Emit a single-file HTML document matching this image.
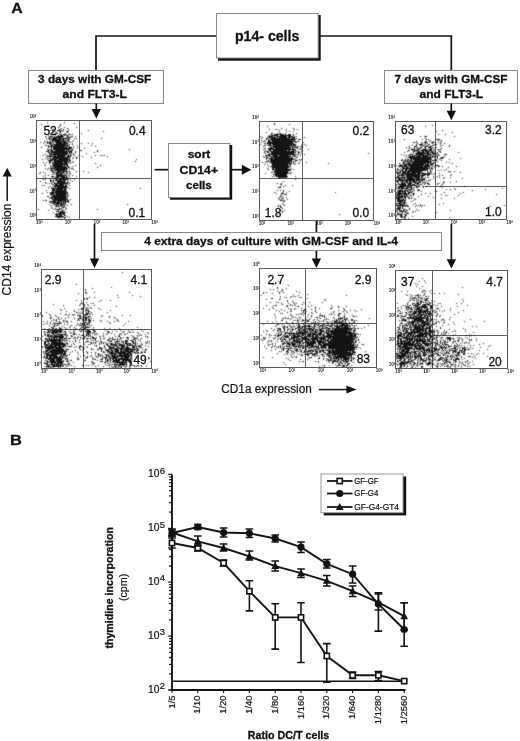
<!DOCTYPE html>
<html><head><meta charset="utf-8"><title>Figure</title>
<style>
html,body{margin:0;padding:0;background:#fff}
svg{display:block}
text{font-family:"Liberation Sans",Arial,Helvetica,sans-serif;fill:#111;stroke:#111;stroke-width:.2px}
.b{font-weight:bold;stroke-width:.3px}
.ln{stroke:#151515;fill:none}
.box{fill:#fff;stroke:#888;stroke-width:1}
.pl{fill:#fff;stroke:#5a5a5a;stroke-width:1}
.q{stroke:#606060;stroke-width:1}
.n{font-size:12px;stroke-width:.3px}
.t{font-size:4.6px;fill:#2a2a2a;stroke:none;font-weight:bold}
.d{stroke:#141414;stroke-width:1;fill:none;shape-rendering:crispEdges}
</style></head><body>
<svg width="520" height="741" viewBox="0 0 520 741">
<defs><filter id="bl" x="-3%" y="-3%" width="106%" height="106%" color-interpolation-filters="sRGB"><feConvolveMatrix order="3" kernelMatrix=".04 .11 .04 .11 .4 .11 .04 .11 .04" divisor="1" edgeMode="none" preserveAlpha="false"/></filter></defs>
<rect width="520" height="741" fill="#fff"/>

<text class="b" x="11.3" y="13" font-size="14.7" textLength="11.4" lengthAdjust="spacingAndGlyphs">A</text>
<text class="b" x="9.9" y="444.7" font-size="14.7" textLength="11.9" lengthAdjust="spacingAndGlyphs">B</text>
<path class="ln" stroke-width="1.7" d="M216 36H96V70.5M320 36H451.3V70.5"/>
<rect x="218" y="15" width="102.7" height="45.7" fill="#111"/>
<rect class="box" x="216.5" y="13.5" width="101.7" height="44.5"/>
<text class="b" x="235" y="41.2" font-size="14.5" textLength="64.3" lengthAdjust="spacingAndGlyphs">p14- cells</text>
<rect class="box" x="28.5" y="70.5" width="135" height="33"/>
<text class="b" x="38.1" y="83.1" font-size="11.7" textLength="113.1" lengthAdjust="spacingAndGlyphs">3 days with GM-CSF</text>
<text class="b" x="62.6" y="97.6" font-size="11.7" textLength="64.2" lengthAdjust="spacingAndGlyphs">and FLT3-L</text>
<rect class="box" x="384.5" y="70.5" width="133" height="33"/>
<text class="b" x="394.5" y="83" font-size="11.7" textLength="113.0" lengthAdjust="spacingAndGlyphs">7 days with GM-CSF</text>
<text class="b" x="419.5" y="97.6" font-size="11.7" textLength="63.7" lengthAdjust="spacingAndGlyphs">and FLT3-L</text>
<path class="ln" stroke-width="1.7" d="M96.3 103.5V110.0"/>
<path fill="#111" d="M91.6 109.0H101.0L96.3 118.4Z"/>
<path class="ln" stroke-width="1.7" d="M451.3 103.5V111.8"/>
<path fill="#111" d="M446.6 110.8H456.0L451.3 120.2Z"/>
<path class="ln" stroke-width="1.7" d="M154.7 169.7H168"/>
<rect x="170" y="145" width="62.2" height="54.7" fill="#111"/>
<rect class="box" x="168.5" y="143.5" width="61" height="54"/>
<text class="b" x="187.7" y="158.3" font-size="11.7" textLength="22.6" lengthAdjust="spacingAndGlyphs">sort</text>
<text class="b" x="179.6" y="173.7" font-size="11.7" textLength="38.5" lengthAdjust="spacingAndGlyphs">CD14+</text>
<text class="b" x="186" y="189" font-size="11.7" textLength="25.8" lengthAdjust="spacingAndGlyphs">cells</text>
<path class="ln" stroke-width="1.7" d="M232 169.7H242.8"/>
<path fill="#111" d="M241.8 164.7V174.7L251.3 169.7Z"/>
<path class="ln" stroke-width="1.7" d="M94.5 224V259.6"/>
<path fill="#111" d="M89.8 258.6H99.2L94.5 268Z"/>
<path class="ln" stroke-width="1.7" d="M316.4 221V232"/>
<path class="ln" stroke-width="1.7" d="M316.4 250.5V259.6"/>
<path fill="#111" d="M311.7 258.6H321.09999999999997L316.4 268Z"/>
<path class="ln" stroke-width="1.7" d="M451.4 224V260.20000000000005"/>
<path fill="#111" d="M446.7 259.20000000000005H456.09999999999997L451.4 268.6Z"/>
<rect class="box" x="101.5" y="232.5" width="340" height="18"/>
<text class="b" x="144.2" y="244.8" font-size="11.7" textLength="253.8" lengthAdjust="spacingAndGlyphs">4 extra days of culture with GM-CSF and IL-4</text>
<rect class="pl" x="36.5" y="120.5" width="115" height="99"/>
<path class="q" d="M79.5 120.5V219.5M36.5 178.5H151.5"/>
<text class="t" x="39.3" y="224.4" text-anchor="middle">10<tspan dy="-1.2" font-size="2.6">0</tspan></text>
<text class="t" x="36.0" y="217.4" text-anchor="end">10<tspan dy="-1.2" font-size="2.6">0</tspan></text>
<text class="t" x="68.1" y="224.4" text-anchor="middle">10<tspan dy="-1.2" font-size="2.6">1</tspan></text>
<text class="t" x="36.0" y="192.6" text-anchor="end">10<tspan dy="-1.2" font-size="2.6">1</tspan></text>
<text class="t" x="96.9" y="224.4" text-anchor="middle">10<tspan dy="-1.2" font-size="2.6">2</tspan></text>
<text class="t" x="36.0" y="167.8" text-anchor="end">10<tspan dy="-1.2" font-size="2.6">2</tspan></text>
<text class="t" x="125.7" y="224.4" text-anchor="middle">10<tspan dy="-1.2" font-size="2.6">3</tspan></text>
<text class="t" x="36.0" y="143.1" text-anchor="end">10<tspan dy="-1.2" font-size="2.6">3</tspan></text>
<text class="t" x="154.5" y="224.4" text-anchor="middle">10<tspan dy="-1.2" font-size="2.6">4</tspan></text>
<text class="t" x="36.0" y="118.3" text-anchor="end">10<tspan dy="-1.2" font-size="2.6">4</tspan></text>
<path class="d" filter="url(#bl)" d="M47 122.5h1M64 122.5h1M74 123.5h1M41 124.5h1M60 124.5h1M48 125.5h1M60 125.5h1M59 126.5h1M58 127.5h1M64 127.5h1M76 127.5h1M61 128.5h1M67 128.5h1M52 129.5h2M59 129.5h2M63 129.5h1M68 129.5h1M50 130.5h1M52 130.5h2M57 130.5h3M61 130.5h1M63 130.5h1M88 130.5h1M55 131.5h1M59 131.5h2M62 131.5h1M66 131.5h3M103 131.5h1M52 132.5h1M56 132.5h1M60 132.5h1M67 132.5h1M49 133.5h1M54 133.5h4M60 133.5h1M65 133.5h1M81 133.5h1M53 134.5h1M59 134.5h1M61 134.5h1M63 134.5h3M68 134.5h3M72 134.5h1M48 135.5h1M58 135.5h1M60 135.5h3M64 135.5h1M66 135.5h2M45 136.5h1M49 136.5h4M54 136.5h1M56 136.5h8M67 136.5h2M71 136.5h2M75 136.5h1M46 137.5h1M49 137.5h1M51 137.5h1M53 137.5h10M66 137.5h1M68 137.5h3M48 138.5h3M52 138.5h5M58 138.5h3M62 138.5h7M74 138.5h1M76 138.5h1M101 138.5h1M46 139.5h1M49 139.5h1M51 139.5h13M65 139.5h1M68 139.5h2M50 140.5h1M52 140.5h9M62 140.5h3M66 140.5h3M73 140.5h1M44 141.5h1M47 141.5h1M50 141.5h1M52 141.5h2M55 141.5h11M67 141.5h1M69 141.5h1M72 141.5h1M40 142.5h1M45 142.5h1M47 142.5h4M52 142.5h1M55 142.5h7M63 142.5h4M68 142.5h1M70 142.5h1M43 143.5h1M47 143.5h1M49 143.5h3M53 143.5h1M56 143.5h12M72 143.5h1M81 143.5h1M88 143.5h1M92 143.5h1M50 144.5h2M53 144.5h13M67 144.5h1M69 144.5h1M72 144.5h1M45 145.5h2M48 145.5h1M51 145.5h2M54 145.5h15M77 145.5h1M91 145.5h1M48 146.5h17M66 146.5h2M69 146.5h1M73 146.5h1M95 146.5h1M41 147.5h1M48 147.5h1M51 147.5h1M53 147.5h14M68 147.5h4M77 147.5h1M51 148.5h1M53 148.5h19M73 148.5h1M79 148.5h1M84 148.5h1M47 149.5h2M50 149.5h2M53 149.5h17M72 149.5h1M129 149.5h1M48 150.5h2M51 150.5h2M55 150.5h10M66 150.5h1M68 150.5h1M70 150.5h3M80 150.5h2M97 150.5h1M46 151.5h3M50 151.5h22M75 151.5h1M97 151.5h1M48 152.5h2M51 152.5h17M69 152.5h3M75 152.5h1M94 152.5h1M49 153.5h3M53 153.5h15M69 153.5h1M71 153.5h1M73 153.5h1M86 153.5h1M45 154.5h1M50 154.5h17M68 154.5h1M70 154.5h1M73 154.5h1M43 155.5h1M47 155.5h1M49 155.5h2M52 155.5h1M54 155.5h2M57 155.5h9M67 155.5h2M70 155.5h2M74 155.5h1M79 155.5h1M95 155.5h1M100 155.5h1M102 155.5h1M104 155.5h1M46 156.5h1M48 156.5h17M67 156.5h4M82 156.5h1M107 156.5h1M47 157.5h1M50 157.5h1M53 157.5h17M73 157.5h1M76 157.5h2M91 157.5h1M45 158.5h1M48 158.5h1M50 158.5h1M52 158.5h16M69 158.5h1M72 158.5h1M76 158.5h1M42 159.5h1M47 159.5h1M50 159.5h7M58 159.5h12M136 159.5h1M48 160.5h5M54 160.5h14M69 160.5h2M49 161.5h2M53 161.5h17M72 161.5h1M135 161.5h1M43 162.5h1M46 162.5h1M49 162.5h2M52 162.5h1M54 162.5h9M64 162.5h3M68 162.5h1M70 162.5h1M73 162.5h1M49 163.5h1M52 163.5h16M70 163.5h1M95 163.5h1M44 164.5h1M53 164.5h15M45 165.5h1M50 165.5h1M52 165.5h11M64 165.5h1M66 165.5h2M75 165.5h1M100 165.5h1M51 166.5h1M53 166.5h13M67 166.5h2M72 166.5h1M50 167.5h1M52 167.5h1M54 167.5h13M68 167.5h2M97 167.5h1M45 168.5h1M48 168.5h1M50 168.5h18M71 168.5h2M47 169.5h1M51 169.5h1M53 169.5h1M55 169.5h12M69 169.5h1M73 169.5h1M50 170.5h3M54 170.5h11M66 170.5h1M52 171.5h2M57 171.5h4M62 171.5h6M69 171.5h1M76 171.5h1M83 171.5h1M40 172.5h1M43 172.5h1M52 172.5h1M54 172.5h10M66 172.5h1M69 172.5h1M88 172.5h1M39 173.5h1M45 173.5h1M53 173.5h1M56 173.5h3M60 173.5h2M63 173.5h2M66 173.5h2M70 173.5h1M52 174.5h1M54 174.5h1M56 174.5h7M65 174.5h1M69 174.5h1M45 175.5h1M48 175.5h1M56 175.5h11M68 175.5h1M72 175.5h1M43 176.5h1M51 176.5h3M56 176.5h9M66 176.5h1M69 176.5h1M76 176.5h1M45 177.5h1M52 177.5h1M54 177.5h5M61 177.5h7M42 178.5h1M56 178.5h1M58 178.5h7M66 178.5h2M70 178.5h1M43 179.5h1M45 179.5h1M50 179.5h1M53 179.5h1M55 179.5h3M59 179.5h10M74 179.5h1M50 180.5h2M53 180.5h1M55 180.5h7M63 180.5h3M70 180.5h1M40 181.5h1M50 181.5h2M53 181.5h1M57 181.5h8M67 181.5h1M72 181.5h1M45 182.5h1M52 182.5h1M54 182.5h1M57 182.5h9M67 182.5h2M46 183.5h1M49 183.5h1M51 183.5h1M54 183.5h14M69 183.5h1M52 184.5h2M55 184.5h3M59 184.5h5M65 184.5h1M67 184.5h1M42 185.5h1M44 185.5h1M54 185.5h10M65 185.5h2M69 185.5h1M50 186.5h1M52 186.5h1M54 186.5h13M48 187.5h1M53 187.5h1M55 187.5h1M57 187.5h11M51 188.5h15M69 188.5h1M140 188.5h1M52 189.5h3M56 189.5h7M64 189.5h3M46 190.5h1M52 190.5h14M52 191.5h2M55 191.5h12M47 192.5h1M50 192.5h18M42 193.5h1M50 193.5h4M55 193.5h11M67 193.5h1M50 194.5h5M56 194.5h12M51 195.5h1M53 195.5h13M68 195.5h1M47 196.5h2M52 196.5h16M50 197.5h16M67 197.5h1M49 198.5h1M51 198.5h2M54 198.5h13M52 199.5h16M70 199.5h1M43 200.5h1M45 200.5h2M53 200.5h13M67 200.5h2M49 201.5h7M57 201.5h5M63 201.5h6M50 202.5h1M52 202.5h8M61 202.5h3M65 202.5h1M68 202.5h1M51 203.5h1M53 203.5h2M56 203.5h6M63 203.5h3M54 204.5h5M60 204.5h4M65 204.5h1M71 204.5h1M127 204.5h1M50 205.5h1M52 205.5h1M56 205.5h1M58 205.5h1M60 205.5h3M64 205.5h1M67 205.5h1M55 206.5h5M61 206.5h1M63 206.5h2M51 207.5h1M62 207.5h2M65 207.5h1M52 208.5h1M55 208.5h1M59 208.5h2M62 208.5h1M66 208.5h1M38 209.5h1M54 209.5h1M56 209.5h4M61 209.5h1M65 209.5h1M97 209.5h1M48 210.5h1M58 210.5h1M62 210.5h2M56 211.5h3M60 211.5h3M64 211.5h1M53 212.5h1M59 212.5h6M66 212.5h1M56 213.5h1M58 213.5h7M55 214.5h7M63 214.5h2M56 215.5h2M59 215.5h3M64 215.5h2M55 216.5h9M67 216.5h1M57 217.5h4M62 217.5h1M64 217.5h2M69 217.5h1M64 218.5h1M61 219.5h1"/>
<text class="n" x="43.4" y="135" text-anchor="start">52</text>
<text class="n" x="145.6" y="135" text-anchor="end">0.4</text>
<text class="n" x="145.2" y="217.2" text-anchor="end">0.1</text>
<rect class="pl" x="259.5" y="121.5" width="114" height="99"/>
<path class="q" d="M302.5 121.5V220.5M259.5 178.5H373.5"/>
<text class="t" x="262.0" y="224.9" text-anchor="middle">10<tspan dy="-1.2" font-size="2.6">0</tspan></text>
<text class="t" x="258.7" y="217.9" text-anchor="end">10<tspan dy="-1.2" font-size="2.6">0</tspan></text>
<text class="t" x="290.7" y="224.9" text-anchor="middle">10<tspan dy="-1.2" font-size="2.6">1</tspan></text>
<text class="t" x="258.7" y="193.1" text-anchor="end">10<tspan dy="-1.2" font-size="2.6">1</tspan></text>
<text class="t" x="319.4" y="224.9" text-anchor="middle">10<tspan dy="-1.2" font-size="2.6">2</tspan></text>
<text class="t" x="258.7" y="168.3" text-anchor="end">10<tspan dy="-1.2" font-size="2.6">2</tspan></text>
<text class="t" x="348.0" y="224.9" text-anchor="middle">10<tspan dy="-1.2" font-size="2.6">3</tspan></text>
<text class="t" x="258.7" y="143.6" text-anchor="end">10<tspan dy="-1.2" font-size="2.6">3</tspan></text>
<text class="t" x="376.7" y="224.9" text-anchor="middle">10<tspan dy="-1.2" font-size="2.6">4</tspan></text>
<text class="t" x="258.7" y="118.8" text-anchor="end">10<tspan dy="-1.2" font-size="2.6">4</tspan></text>
<path class="d" filter="url(#bl)" d="M274 123.5h1M274 124.5h1M289 124.5h1M267 126.5h1M281 128.5h1M293 128.5h1M269 129.5h1M275 129.5h1M277 129.5h1M286 129.5h1M294 129.5h1M297 129.5h1M279 130.5h1M286 131.5h1M289 131.5h1M293 131.5h1M266 132.5h1M279 132.5h1M271 133.5h2M277 133.5h1M280 133.5h1M285 133.5h1M296 133.5h1M271 134.5h1M274 134.5h10M285 134.5h1M288 134.5h3M293 134.5h1M269 135.5h1M271 135.5h7M280 135.5h11M293 135.5h1M260 136.5h1M268 136.5h5M274 136.5h1M276 136.5h11M288 136.5h5M294 136.5h1M296 136.5h1M262 137.5h1M267 137.5h1M269 137.5h7M277 137.5h1M279 137.5h8M288 137.5h3M292 137.5h3M304 137.5h1M261 138.5h1M266 138.5h2M269 138.5h1M271 138.5h19M291 138.5h4M296 138.5h1M266 139.5h1M268 139.5h1M270 139.5h26M298 139.5h3M261 140.5h1M264 140.5h1M268 140.5h2M271 140.5h22M294 140.5h1M263 141.5h1M265 141.5h1M268 141.5h3M272 141.5h24M297 141.5h2M261 142.5h1M267 142.5h26M295 142.5h2M303 142.5h1M264 143.5h2M267 143.5h27M260 144.5h1M267 144.5h1M269 144.5h2M272 144.5h24M301 144.5h1M304 144.5h1M264 145.5h2M268 145.5h4M273 145.5h19M293 145.5h3M302 145.5h1M306 145.5h1M263 146.5h1M270 146.5h1M272 146.5h18M291 146.5h3M295 146.5h1M297 146.5h1M299 146.5h1M301 146.5h1M270 147.5h2M273 147.5h18M292 147.5h1M294 147.5h4M301 147.5h2M264 148.5h2M268 148.5h6M275 148.5h16M292 148.5h2M297 148.5h1M300 148.5h1M263 149.5h1M268 149.5h28M299 149.5h1M301 149.5h1M308 149.5h1M265 150.5h1M269 150.5h2M273 150.5h14M288 150.5h2M292 150.5h2M295 150.5h1M302 150.5h1M264 151.5h1M266 151.5h3M270 151.5h25M296 151.5h1M298 151.5h1M301 151.5h1M264 152.5h1M267 152.5h2M271 152.5h25M298 152.5h2M265 153.5h1M269 153.5h1M271 153.5h23M298 153.5h1M301 153.5h1M368 153.5h1M268 154.5h29M298 154.5h1M304 154.5h1M265 155.5h5M272 155.5h6M279 155.5h10M290 155.5h1M293 155.5h2M300 155.5h1M263 156.5h1M266 156.5h1M269 156.5h3M273 156.5h18M292 156.5h1M294 156.5h2M297 156.5h1M264 157.5h1M266 157.5h2M271 157.5h19M291 157.5h2M296 157.5h1M266 158.5h1M268 158.5h5M274 158.5h19M295 158.5h1M266 159.5h1M270 159.5h25M299 159.5h1M301 159.5h1M268 160.5h1M270 160.5h22M295 160.5h3M300 160.5h1M266 161.5h3M270 161.5h22M293 161.5h1M295 161.5h1M262 162.5h1M265 162.5h1M269 162.5h1M271 162.5h19M291 162.5h1M293 162.5h1M299 162.5h1M306 162.5h1M271 163.5h21M293 163.5h1M295 163.5h1M298 163.5h1M328 163.5h1M264 164.5h1M267 164.5h1M272 164.5h16M289 164.5h2M294 164.5h1M272 165.5h17M290 165.5h1M268 166.5h1M270 166.5h19M290 166.5h1M272 167.5h18M267 168.5h1M272 168.5h2M275 168.5h13M291 168.5h1M268 169.5h1M272 169.5h19M293 169.5h1M273 170.5h1M275 170.5h16M274 171.5h14M271 172.5h2M274 172.5h15M291 172.5h1M265 173.5h1M275 173.5h13M289 173.5h2M273 174.5h14M275 175.5h12M272 176.5h1M274 176.5h1M276 176.5h12M295 176.5h1M278 177.5h9M279 178.5h1M295 179.5h1M283 181.5h1M277 183.5h1M281 183.5h1M280 184.5h2M285 185.5h1M292 185.5h1M280 186.5h1M283 186.5h1M278 187.5h3M277 190.5h1M280 190.5h1M283 190.5h1M283 191.5h1M289 191.5h1M274 192.5h1M282 192.5h1M286 192.5h1M335 192.5h1M276 193.5h1M281 193.5h3M281 194.5h1M284 194.5h3M280 195.5h1M280 196.5h1M282 196.5h1M279 197.5h1M281 197.5h1M286 197.5h1M278 198.5h1M282 198.5h2M279 199.5h1M281 199.5h1M287 199.5h1M280 200.5h3M284 200.5h1M283 201.5h2M282 203.5h1M283 204.5h1M278 205.5h1M280 205.5h1M284 205.5h1M278 206.5h1M280 206.5h1M280 207.5h2M282 208.5h1M279 210.5h1M281 210.5h1M284 210.5h1M282 211.5h1M282 212.5h1M277 214.5h1M280 214.5h1M339 214.5h1M279 216.5h1"/>
<text class="n" x="369.3" y="134.8" text-anchor="end">0.2</text>
<text class="n" x="264.8" y="217.2" text-anchor="start">1.8</text>
<text class="n" x="369.3" y="217.4" text-anchor="end">0.0</text>
<rect class="pl" x="395.5" y="121.5" width="111" height="98"/>
<path class="q" d="M435.5 121.5V219.5M425 186.5H506.5"/>
<text class="t" x="398.2" y="224.4" text-anchor="middle">10<tspan dy="-1.2" font-size="2.6">0</tspan></text>
<text class="t" x="394.9" y="217.4" text-anchor="end">10<tspan dy="-1.2" font-size="2.6">0</tspan></text>
<text class="t" x="426.0" y="224.4" text-anchor="middle">10<tspan dy="-1.2" font-size="2.6">1</tspan></text>
<text class="t" x="394.9" y="192.8" text-anchor="end">10<tspan dy="-1.2" font-size="2.6">1</tspan></text>
<text class="t" x="453.9" y="224.4" text-anchor="middle">10<tspan dy="-1.2" font-size="2.6">2</tspan></text>
<text class="t" x="394.9" y="168.1" text-anchor="end">10<tspan dy="-1.2" font-size="2.6">2</tspan></text>
<text class="t" x="481.7" y="224.4" text-anchor="middle">10<tspan dy="-1.2" font-size="2.6">3</tspan></text>
<text class="t" x="394.9" y="143.4" text-anchor="end">10<tspan dy="-1.2" font-size="2.6">3</tspan></text>
<text class="t" x="509.5" y="224.4" text-anchor="middle">10<tspan dy="-1.2" font-size="2.6">4</tspan></text>
<text class="t" x="394.9" y="118.8" text-anchor="end">10<tspan dy="-1.2" font-size="2.6">4</tspan></text>
<path class="d" filter="url(#bl)" d="M432 125.5h1M425 126.5h1M442 130.5h1M436 131.5h1M452 132.5h1M438 134.5h1M445 134.5h1M420 136.5h1M424 136.5h3M454 136.5h1M425 138.5h1M404 139.5h1M422 139.5h1M426 139.5h1M428 139.5h1M436 139.5h4M430 140.5h1M438 140.5h1M441 140.5h1M416 141.5h1M425 141.5h2M429 141.5h1M433 141.5h1M440 141.5h1M413 142.5h2M416 142.5h1M421 142.5h1M424 142.5h3M431 142.5h3M435 142.5h1M438 142.5h1M441 142.5h1M417 143.5h1M422 143.5h1M425 143.5h1M427 143.5h1M432 143.5h1M440 143.5h1M444 143.5h1M416 144.5h1M419 144.5h4M425 144.5h1M428 144.5h2M434 144.5h3M440 144.5h1M412 145.5h1M416 145.5h1M420 145.5h2M423 145.5h2M427 145.5h1M432 145.5h2M442 145.5h1M449 145.5h1M409 146.5h1M414 146.5h3M422 146.5h1M425 146.5h3M429 146.5h3M440 146.5h1M449 146.5h1M406 147.5h1M409 147.5h1M414 147.5h1M417 147.5h1M420 147.5h2M424 147.5h2M428 147.5h3M432 147.5h1M435 147.5h2M408 148.5h1M411 148.5h1M414 148.5h1M416 148.5h1M418 148.5h3M425 148.5h1M430 148.5h2M433 148.5h1M441 148.5h1M411 149.5h4M417 149.5h2M422 149.5h5M428 149.5h4M434 149.5h1M437 149.5h1M439 149.5h2M408 150.5h2M412 150.5h1M414 150.5h5M420 150.5h8M429 150.5h3M433 150.5h1M438 150.5h1M407 151.5h1M413 151.5h2M416 151.5h1M418 151.5h2M422 151.5h2M425 151.5h5M431 151.5h2M434 151.5h1M439 151.5h2M404 152.5h1M413 152.5h1M417 152.5h8M426 152.5h3M430 152.5h4M435 152.5h1M437 152.5h1M440 152.5h1M458 152.5h1M411 153.5h1M415 153.5h15M432 153.5h4M437 153.5h1M401 154.5h1M409 154.5h2M412 154.5h2M416 154.5h8M425 154.5h1M427 154.5h5M433 154.5h2M436 154.5h1M438 154.5h1M444 154.5h3M404 155.5h1M406 155.5h1M408 155.5h1M410 155.5h1M412 155.5h1M414 155.5h3M418 155.5h11M430 155.5h1M432 155.5h1M435 155.5h1M437 155.5h1M439 155.5h1M409 156.5h6M416 156.5h5M422 156.5h6M429 156.5h2M432 156.5h3M436 156.5h2M444 156.5h1M406 157.5h1M408 157.5h25M434 157.5h1M437 157.5h1M441 157.5h3M410 158.5h21M437 158.5h1M440 158.5h3M460 158.5h1M402 159.5h1M405 159.5h1M407 159.5h2M410 159.5h2M413 159.5h19M434 159.5h1M436 159.5h1M439 159.5h1M449 159.5h1M401 160.5h2M404 160.5h2M407 160.5h2M410 160.5h3M414 160.5h15M430 160.5h1M432 160.5h5M441 160.5h1M403 161.5h1M405 161.5h3M409 161.5h3M413 161.5h19M437 161.5h1M403 162.5h2M407 162.5h3M411 162.5h20M433 162.5h2M446 162.5h1M449 162.5h1M399 163.5h1M402 163.5h3M406 163.5h1M408 163.5h3M412 163.5h14M427 163.5h2M430 163.5h4M435 163.5h1M452 163.5h1M400 164.5h1M404 164.5h20M425 164.5h4M430 164.5h3M396 165.5h1M399 165.5h8M408 165.5h22M431 165.5h1M433 165.5h1M435 165.5h4M398 166.5h5M404 166.5h4M409 166.5h14M424 166.5h6M432 166.5h1M435 166.5h1M438 166.5h2M442 166.5h1M456 166.5h1M402 167.5h3M406 167.5h3M410 167.5h18M429 167.5h1M431 167.5h1M434 167.5h1M448 167.5h1M397 168.5h1M400 168.5h1M402 168.5h28M431 168.5h2M397 169.5h2M402 169.5h2M405 169.5h3M409 169.5h19M430 169.5h1M432 169.5h1M446 169.5h1M397 170.5h1M399 170.5h4M405 170.5h2M408 170.5h18M427 170.5h1M430 170.5h1M438 170.5h1M441 170.5h1M444 170.5h1M396 171.5h1M400 171.5h1M402 171.5h20M427 171.5h1M430 171.5h2M448 171.5h1M450 171.5h1M454 171.5h1M396 172.5h5M402 172.5h4M407 172.5h3M411 172.5h10M422 172.5h1M427 172.5h1M429 172.5h1M449 172.5h1M460 172.5h1M397 173.5h2M400 173.5h1M402 173.5h14M417 173.5h9M427 173.5h5M434 173.5h1M439 173.5h1M397 174.5h1M399 174.5h1M401 174.5h3M405 174.5h15M422 174.5h8M433 174.5h1M451 174.5h1M398 175.5h7M406 175.5h19M427 175.5h2M439 175.5h1M442 175.5h1M450 175.5h1M397 176.5h2M402 176.5h1M404 176.5h1M406 176.5h14M421 176.5h2M433 176.5h1M437 176.5h1M396 177.5h9M406 177.5h7M414 177.5h6M421 177.5h2M425 177.5h1M427 177.5h2M435 177.5h1M439 177.5h1M444 177.5h1M450 177.5h1M396 178.5h1M398 178.5h2M401 178.5h1M403 178.5h3M407 178.5h8M416 178.5h4M421 178.5h1M423 178.5h2M433 178.5h1M443 178.5h1M462 178.5h1M398 179.5h5M404 179.5h1M406 179.5h19M430 179.5h1M396 180.5h19M416 180.5h4M421 180.5h2M424 180.5h1M426 180.5h1M428 180.5h2M435 180.5h1M396 181.5h2M400 181.5h1M402 181.5h2M405 181.5h3M409 181.5h2M412 181.5h5M419 181.5h2M422 181.5h1M444 181.5h1M456 181.5h1M397 182.5h2M401 182.5h2M404 182.5h1M406 182.5h2M409 182.5h3M413 182.5h3M417 182.5h4M423 182.5h3M427 182.5h1M443 182.5h1M450 182.5h1M398 183.5h1M401 183.5h5M407 183.5h5M415 183.5h4M422 183.5h1M425 183.5h1M427 183.5h2M437 183.5h1M439 183.5h1M443 183.5h1M396 184.5h1M398 184.5h8M408 184.5h3M412 184.5h3M417 184.5h2M420 184.5h2M424 184.5h1M428 184.5h2M437 184.5h1M442 184.5h1M396 185.5h1M400 185.5h17M419 185.5h1M441 185.5h1M398 186.5h8M407 186.5h2M410 186.5h2M416 186.5h4M422 186.5h2M426 186.5h1M440 186.5h1M464 186.5h1M396 187.5h1M398 187.5h6M406 187.5h6M414 187.5h1M416 187.5h2M423 187.5h1M442 187.5h1M396 188.5h1M398 188.5h2M401 188.5h7M411 188.5h3M454 188.5h1M502 188.5h1M397 189.5h1M400 189.5h1M402 189.5h1M406 189.5h1M408 189.5h4M418 189.5h1M446 189.5h1M450 189.5h1M455 189.5h1M485 189.5h1M398 190.5h5M404 190.5h4M409 190.5h1M411 190.5h1M413 190.5h2M417 190.5h3M435 190.5h1M472 190.5h1M397 191.5h9M407 191.5h2M410 191.5h1M412 191.5h1M421 191.5h1M436 191.5h1M396 192.5h1M398 192.5h3M402 192.5h1M404 192.5h2M408 192.5h4M444 192.5h1M463 192.5h1M396 193.5h11M408 193.5h2M412 193.5h3M425 193.5h1M430 193.5h1M460 193.5h1M397 194.5h5M403 194.5h6M413 194.5h1M421 194.5h1M441 194.5h1M496 194.5h1M396 195.5h4M401 195.5h2M404 195.5h1M406 195.5h1M410 195.5h2M413 195.5h1M445 195.5h1M447 195.5h1M458 195.5h1M396 196.5h1M398 196.5h10M409 196.5h1M418 196.5h1M428 196.5h1M396 197.5h7M404 197.5h2M408 197.5h1M411 197.5h1M433 197.5h1M396 198.5h4M401 198.5h1M403 198.5h1M405 198.5h1M408 198.5h2M411 198.5h1M414 198.5h1M441 198.5h1M454 198.5h1M397 199.5h4M402 199.5h2M405 199.5h1M415 199.5h1M397 200.5h9M413 200.5h1M397 201.5h6M404 201.5h1M411 201.5h1M399 202.5h3M403 202.5h3M396 203.5h5M402 203.5h3M406 203.5h1M415 203.5h1M443 203.5h1M396 204.5h1M399 204.5h4M404 204.5h1M413 204.5h1M420 204.5h1M439 204.5h1M396 205.5h12M416 205.5h1M418 205.5h1M420 205.5h1M422 205.5h1M424 205.5h1M504 205.5h1M397 206.5h2M400 206.5h1M402 206.5h2M405 206.5h1M407 206.5h2M415 206.5h1M421 206.5h1M490 206.5h1M398 207.5h3M402 207.5h1M396 208.5h5M402 208.5h1M409 208.5h1M397 209.5h3M403 209.5h3M409 209.5h1M416 209.5h1M396 210.5h1M399 210.5h3M403 210.5h1M406 210.5h2M418 210.5h1M450 210.5h1M396 211.5h2M400 211.5h6M413 211.5h1M415 211.5h1M399 212.5h1M402 212.5h1M405 212.5h1M407 212.5h1M412 212.5h1M436 212.5h1M397 213.5h2M401 213.5h1M406 213.5h3M397 214.5h6M404 214.5h2M396 215.5h1M400 215.5h2M405 215.5h2M396 216.5h1M400 216.5h3M404 216.5h2M412 216.5h1M401 217.5h2M404 217.5h1M449 217.5h1M397 218.5h1M404 218.5h2M408 218.5h1"/>
<text class="n" x="401" y="133.8" text-anchor="start">63</text>
<text class="n" x="501.8" y="133.8" text-anchor="end">3.2</text>
<text class="n" x="501.8" y="215.5" text-anchor="end">1.0</text>
<rect class="pl" x="41.5" y="269.5" width="110" height="99"/>
<path class="q" d="M83.5 269.5V368.5M41.5 329.5H151.5"/>
<text class="t" x="44.2" y="372.6" text-anchor="middle">10<tspan dy="-1.2" font-size="2.6">0</tspan></text>
<text class="t" x="40.9" y="365.6" text-anchor="end">10<tspan dy="-1.2" font-size="2.6">0</tspan></text>
<text class="t" x="71.8" y="372.6" text-anchor="middle">10<tspan dy="-1.2" font-size="2.6">1</tspan></text>
<text class="t" x="40.9" y="341.0" text-anchor="end">10<tspan dy="-1.2" font-size="2.6">1</tspan></text>
<text class="t" x="99.3" y="372.6" text-anchor="middle">10<tspan dy="-1.2" font-size="2.6">2</tspan></text>
<text class="t" x="40.9" y="316.5" text-anchor="end">10<tspan dy="-1.2" font-size="2.6">2</tspan></text>
<text class="t" x="126.9" y="372.6" text-anchor="middle">10<tspan dy="-1.2" font-size="2.6">3</tspan></text>
<text class="t" x="40.9" y="291.9" text-anchor="end">10<tspan dy="-1.2" font-size="2.6">3</tspan></text>
<text class="t" x="154.5" y="372.6" text-anchor="middle">10<tspan dy="-1.2" font-size="2.6">4</tspan></text>
<text class="t" x="40.9" y="267.3" text-anchor="end">10<tspan dy="-1.2" font-size="2.6">4</tspan></text>
<path class="d" filter="url(#bl)" d="M122 272.5h1M76 284.5h1M111 287.5h1M92 288.5h1M85 289.5h1M85 290.5h1M85 292.5h2M94 292.5h1M129 292.5h1M78 293.5h1M86 293.5h1M117 295.5h1M132 295.5h1M140 296.5h1M89 297.5h1M94 297.5h1M118 297.5h1M84 298.5h1M86 298.5h2M84 299.5h1M87 299.5h1M76 300.5h1M81 300.5h1M101 300.5h1M110 300.5h1M99 301.5h1M81 302.5h1M86 302.5h1M81 303.5h2M91 303.5h1M93 303.5h1M53 304.5h1M80 304.5h1M83 304.5h2M87 304.5h1M63 305.5h1M79 305.5h1M84 305.5h1M88 305.5h1M94 305.5h1M83 306.5h1M116 306.5h1M84 307.5h1M86 307.5h1M90 307.5h1M64 308.5h1M81 308.5h3M87 308.5h2M91 308.5h1M98 308.5h1M60 309.5h1M78 309.5h1M81 309.5h2M85 309.5h2M100 309.5h1M61 310.5h1M74 310.5h1M86 310.5h3M110 310.5h1M66 311.5h1M74 311.5h1M82 311.5h1M85 311.5h1M88 311.5h2M46 312.5h1M76 312.5h2M79 312.5h1M82 312.5h1M86 312.5h1M88 312.5h1M91 312.5h1M107 312.5h1M60 313.5h1M80 313.5h1M82 313.5h1M86 313.5h3M90 313.5h1M49 314.5h1M65 314.5h2M69 314.5h1M72 314.5h1M74 314.5h1M78 314.5h1M84 314.5h4M89 314.5h1M92 314.5h1M42 315.5h1M50 315.5h1M55 315.5h1M68 315.5h1M73 315.5h1M77 315.5h1M79 315.5h2M83 315.5h2M86 315.5h1M102 315.5h1M122 315.5h1M130 315.5h1M42 316.5h1M56 316.5h1M79 316.5h2M82 316.5h1M85 316.5h1M88 316.5h3M101 316.5h1M109 316.5h1M50 317.5h2M58 317.5h1M68 317.5h1M80 317.5h1M83 317.5h6M109 317.5h1M114 317.5h1M50 318.5h1M58 318.5h1M61 318.5h1M65 318.5h1M74 318.5h1M78 318.5h4M83 318.5h1M85 318.5h2M89 318.5h1M91 318.5h1M115 318.5h1M53 319.5h1M56 319.5h1M59 319.5h1M78 319.5h1M82 319.5h2M85 319.5h2M88 319.5h2M117 319.5h1M51 320.5h1M54 320.5h1M56 320.5h1M63 320.5h1M65 320.5h1M77 320.5h1M79 320.5h1M82 320.5h1M84 320.5h3M88 320.5h3M93 320.5h1M100 320.5h1M117 320.5h1M43 321.5h1M47 321.5h1M56 321.5h1M59 321.5h1M63 321.5h1M66 321.5h2M71 321.5h1M83 321.5h1M89 321.5h2M101 321.5h1M107 321.5h1M114 321.5h1M118 321.5h1M128 321.5h1M50 322.5h1M53 322.5h1M59 322.5h2M64 322.5h1M67 322.5h1M83 322.5h4M88 322.5h2M109 322.5h1M45 323.5h1M47 323.5h1M50 323.5h1M54 323.5h6M61 323.5h1M77 323.5h1M80 323.5h3M84 323.5h1M87 323.5h1M89 323.5h1M110 323.5h1M125 323.5h1M43 324.5h1M52 324.5h1M54 324.5h1M58 324.5h1M64 324.5h1M67 324.5h1M78 324.5h1M82 324.5h3M86 324.5h3M49 325.5h1M54 325.5h1M56 325.5h2M71 325.5h1M76 325.5h1M79 325.5h3M83 325.5h3M89 325.5h1M91 325.5h1M123 325.5h1M53 326.5h2M62 326.5h1M70 326.5h1M82 326.5h1M85 326.5h1M87 326.5h1M51 327.5h2M59 327.5h1M64 327.5h1M69 327.5h1M74 327.5h1M81 327.5h2M84 327.5h6M93 327.5h1M137 327.5h1M44 328.5h1M49 328.5h1M52 328.5h3M56 328.5h1M59 328.5h3M66 328.5h1M75 328.5h1M80 328.5h1M84 328.5h2M104 328.5h1M109 328.5h1M119 328.5h1M48 329.5h1M52 329.5h1M55 329.5h2M59 329.5h2M65 329.5h1M70 329.5h1M73 329.5h1M76 329.5h1M81 329.5h4M87 329.5h1M92 329.5h2M114 329.5h1M47 330.5h2M50 330.5h13M74 330.5h1M79 330.5h1M82 330.5h1M85 330.5h1M87 330.5h3M93 330.5h2M105 330.5h1M120 330.5h1M128 330.5h1M132 330.5h1M141 330.5h1M44 331.5h1M48 331.5h3M52 331.5h10M64 331.5h2M69 331.5h1M73 331.5h1M80 331.5h2M85 331.5h6M94 331.5h2M107 331.5h2M112 331.5h1M116 331.5h1M122 331.5h1M124 331.5h1M129 331.5h1M143 331.5h1M44 332.5h1M46 332.5h4M51 332.5h7M59 332.5h3M63 332.5h1M65 332.5h1M71 332.5h1M74 332.5h1M83 332.5h1M87 332.5h4M93 332.5h2M108 332.5h2M123 332.5h1M129 332.5h1M131 332.5h1M133 332.5h1M137 332.5h1M147 332.5h1M51 333.5h3M55 333.5h2M58 333.5h1M65 333.5h1M70 333.5h1M73 333.5h2M86 333.5h3M90 333.5h1M92 333.5h1M96 333.5h1M103 333.5h1M107 333.5h1M111 333.5h1M120 333.5h1M127 333.5h1M138 333.5h1M148 333.5h1M44 334.5h2M47 334.5h3M53 334.5h2M57 334.5h10M73 334.5h2M76 334.5h1M79 334.5h1M83 334.5h1M86 334.5h1M88 334.5h2M94 334.5h2M97 334.5h1M106 334.5h1M114 334.5h1M119 334.5h1M121 334.5h1M124 334.5h2M140 334.5h1M145 334.5h1M45 335.5h1M47 335.5h2M50 335.5h3M54 335.5h4M59 335.5h4M65 335.5h1M67 335.5h1M71 335.5h1M81 335.5h3M86 335.5h3M90 335.5h1M103 335.5h1M119 335.5h1M131 335.5h1M137 335.5h1M139 335.5h1M141 335.5h1M42 336.5h1M47 336.5h5M53 336.5h11M66 336.5h1M71 336.5h2M78 336.5h1M84 336.5h2M88 336.5h1M90 336.5h1M92 336.5h1M99 336.5h2M103 336.5h1M115 336.5h1M118 336.5h2M133 336.5h1M137 336.5h1M145 336.5h1M147 336.5h1M49 337.5h1M51 337.5h13M66 337.5h1M74 337.5h2M77 337.5h1M80 337.5h1M84 337.5h1M92 337.5h2M96 337.5h1M109 337.5h1M112 337.5h1M120 337.5h1M123 337.5h1M126 337.5h3M132 337.5h1M134 337.5h1M147 337.5h1M45 338.5h2M48 338.5h2M51 338.5h1M53 338.5h2M56 338.5h1M59 338.5h4M64 338.5h3M68 338.5h3M73 338.5h1M77 338.5h1M80 338.5h1M82 338.5h3M86 338.5h2M89 338.5h2M92 338.5h4M100 338.5h1M103 338.5h2M110 338.5h1M112 338.5h1M117 338.5h1M120 338.5h2M127 338.5h1M134 338.5h4M141 338.5h1M45 339.5h3M49 339.5h12M62 339.5h1M64 339.5h1M75 339.5h1M87 339.5h1M95 339.5h1M100 339.5h1M108 339.5h2M112 339.5h4M117 339.5h1M119 339.5h1M128 339.5h1M133 339.5h2M140 339.5h1M42 340.5h1M47 340.5h17M65 340.5h3M75 340.5h1M79 340.5h1M91 340.5h1M93 340.5h1M95 340.5h1M107 340.5h2M111 340.5h1M117 340.5h1M121 340.5h1M125 340.5h3M130 340.5h3M135 340.5h1M138 340.5h1M44 341.5h5M50 341.5h7M58 341.5h3M64 341.5h1M69 341.5h1M72 341.5h1M75 341.5h1M86 341.5h3M96 341.5h1M98 341.5h1M100 341.5h2M109 341.5h3M114 341.5h1M116 341.5h4M122 341.5h2M125 341.5h3M132 341.5h2M135 341.5h1M140 341.5h1M147 341.5h1M149 341.5h1M44 342.5h2M48 342.5h1M51 342.5h12M66 342.5h1M79 342.5h1M85 342.5h1M90 342.5h2M93 342.5h1M95 342.5h1M101 342.5h1M103 342.5h1M105 342.5h1M115 342.5h2M121 342.5h1M123 342.5h1M125 342.5h2M132 342.5h2M135 342.5h1M145 342.5h1M147 342.5h1M44 343.5h2M48 343.5h2M51 343.5h14M66 343.5h2M73 343.5h1M91 343.5h1M93 343.5h1M95 343.5h1M99 343.5h1M101 343.5h1M103 343.5h1M106 343.5h1M108 343.5h1M110 343.5h3M115 343.5h1M117 343.5h3M123 343.5h1M125 343.5h6M133 343.5h3M137 343.5h1M141 343.5h1M146 343.5h1M149 343.5h1M44 344.5h5M50 344.5h16M67 344.5h1M71 344.5h1M74 344.5h1M84 344.5h1M88 344.5h1M90 344.5h1M99 344.5h1M106 344.5h2M110 344.5h7M119 344.5h4M124 344.5h1M126 344.5h2M129 344.5h2M132 344.5h1M135 344.5h1M142 344.5h1M45 345.5h3M49 345.5h4M54 345.5h7M62 345.5h4M80 345.5h1M94 345.5h1M96 345.5h1M104 345.5h1M107 345.5h2M111 345.5h2M114 345.5h3M118 345.5h7M127 345.5h6M134 345.5h2M137 345.5h1M139 345.5h3M145 345.5h1M42 346.5h1M44 346.5h2M47 346.5h10M58 346.5h7M66 346.5h1M68 346.5h4M76 346.5h1M79 346.5h3M86 346.5h1M96 346.5h1M104 346.5h1M108 346.5h3M113 346.5h2M116 346.5h2M121 346.5h4M126 346.5h2M132 346.5h3M136 346.5h1M138 346.5h2M148 346.5h1M42 347.5h1M45 347.5h17M63 347.5h1M74 347.5h1M79 347.5h1M82 347.5h2M87 347.5h1M99 347.5h2M104 347.5h1M109 347.5h5M117 347.5h3M121 347.5h4M126 347.5h3M132 347.5h3M136 347.5h1M139 347.5h3M45 348.5h9M55 348.5h8M65 348.5h1M79 348.5h1M84 348.5h1M91 348.5h1M99 348.5h4M105 348.5h1M109 348.5h9M119 348.5h4M124 348.5h7M132 348.5h1M134 348.5h1M136 348.5h2M47 349.5h4M52 349.5h12M66 349.5h3M80 349.5h1M83 349.5h1M91 349.5h1M93 349.5h1M97 349.5h2M101 349.5h1M106 349.5h1M108 349.5h2M111 349.5h1M114 349.5h5M120 349.5h16M137 349.5h2M142 349.5h1M145 349.5h2M45 350.5h4M50 350.5h15M66 350.5h1M75 350.5h1M82 350.5h1M101 350.5h1M105 350.5h4M110 350.5h4M115 350.5h4M120 350.5h2M123 350.5h1M125 350.5h4M130 350.5h3M134 350.5h1M136 350.5h3M145 350.5h1M43 351.5h1M45 351.5h3M49 351.5h18M72 351.5h1M86 351.5h1M101 351.5h1M103 351.5h1M107 351.5h3M111 351.5h2M114 351.5h5M120 351.5h14M136 351.5h1M141 351.5h1M144 351.5h1M43 352.5h1M46 352.5h1M48 352.5h15M64 352.5h2M70 352.5h1M77 352.5h1M83 352.5h1M87 352.5h1M91 352.5h1M95 352.5h1M103 352.5h2M107 352.5h1M109 352.5h5M115 352.5h11M127 352.5h4M132 352.5h1M134 352.5h2M137 352.5h2M141 352.5h2M144 352.5h2M44 353.5h5M51 353.5h15M87 353.5h1M95 353.5h1M98 353.5h1M109 353.5h7M117 353.5h15M134 353.5h5M140 353.5h2M46 354.5h13M60 354.5h2M63 354.5h3M69 354.5h1M78 354.5h1M98 354.5h2M101 354.5h1M105 354.5h2M108 354.5h1M111 354.5h2M114 354.5h3M119 354.5h3M123 354.5h6M130 354.5h5M136 354.5h5M142 354.5h1M44 355.5h1M46 355.5h11M60 355.5h1M62 355.5h3M66 355.5h2M83 355.5h2M91 355.5h1M95 355.5h1M98 355.5h1M100 355.5h1M102 355.5h1M106 355.5h3M110 355.5h6M117 355.5h15M133 355.5h3M137 355.5h1M44 356.5h1M46 356.5h2M49 356.5h9M59 356.5h4M65 356.5h2M80 356.5h1M87 356.5h1M90 356.5h1M96 356.5h1M98 356.5h1M100 356.5h1M103 356.5h1M106 356.5h1M108 356.5h2M112 356.5h18M131 356.5h2M134 356.5h2M137 356.5h1M140 356.5h1M43 357.5h2M46 357.5h2M49 357.5h3M53 357.5h8M62 357.5h3M77 357.5h1M86 357.5h2M92 357.5h1M97 357.5h1M102 357.5h1M104 357.5h3M109 357.5h9M121 357.5h2M124 357.5h5M130 357.5h1M132 357.5h4M137 357.5h1M139 357.5h1M141 357.5h1M143 357.5h1M146 357.5h1M148 357.5h1M45 358.5h18M65 358.5h3M78 358.5h1M85 358.5h1M93 358.5h1M102 358.5h1M105 358.5h2M108 358.5h1M110 358.5h1M112 358.5h5M118 358.5h11M130 358.5h9M140 358.5h2M144 358.5h1M146 358.5h1M148 358.5h2M48 359.5h7M56 359.5h6M65 359.5h1M67 359.5h1M77 359.5h2M92 359.5h1M94 359.5h2M100 359.5h3M105 359.5h1M107 359.5h1M109 359.5h2M112 359.5h2M115 359.5h16M132 359.5h3M140 359.5h1M142 359.5h1M147 359.5h1M45 360.5h1M47 360.5h1M50 360.5h5M56 360.5h6M63 360.5h1M67 360.5h1M70 360.5h2M84 360.5h2M97 360.5h1M106 360.5h3M110 360.5h1M113 360.5h7M122 360.5h9M132 360.5h8M141 360.5h1M46 361.5h2M49 361.5h15M66 361.5h3M91 361.5h1M100 361.5h3M105 361.5h1M107 361.5h1M110 361.5h1M112 361.5h8M121 361.5h3M125 361.5h2M128 361.5h5M134 361.5h3M138 361.5h1M141 361.5h2M150 361.5h1M44 362.5h1M47 362.5h2M50 362.5h6M57 362.5h6M73 362.5h1M92 362.5h2M104 362.5h2M107 362.5h1M110 362.5h1M113 362.5h1M115 362.5h12M129 362.5h3M135 362.5h2M147 362.5h1M44 363.5h4M51 363.5h2M54 363.5h9M68 363.5h2M92 363.5h1M94 363.5h1M108 363.5h1M114 363.5h1M117 363.5h1M119 363.5h6M126 363.5h1M130 363.5h2M133 363.5h1M136 363.5h1M139 363.5h2M146 363.5h1M46 364.5h2M49 364.5h6M56 364.5h3M60 364.5h2M63 364.5h3M67 364.5h2M93 364.5h1M105 364.5h1M109 364.5h1M111 364.5h2M114 364.5h4M119 364.5h8M130 364.5h3M134 364.5h1M137 364.5h4M147 364.5h1M47 365.5h2M52 365.5h11M66 365.5h1M69 365.5h1M71 365.5h1M82 365.5h2M86 365.5h1M88 365.5h1M91 365.5h1M98 365.5h1M107 365.5h1M109 365.5h1M114 365.5h1M116 365.5h1M118 365.5h3M122 365.5h2M126 365.5h1M129 365.5h2M132 365.5h1M134 365.5h1M137 365.5h1M141 365.5h1M44 366.5h1M46 366.5h5M52 366.5h9M62 366.5h2M67 366.5h1M74 366.5h1M95 366.5h1M103 366.5h1M111 366.5h1M114 366.5h2M117 366.5h1M119 366.5h1M121 366.5h1M124 366.5h1M126 366.5h1M130 366.5h1M134 366.5h1M136 366.5h1M138 366.5h1M141 366.5h1M146 366.5h1M46 367.5h1M48 367.5h1M50 367.5h2M53 367.5h1M58 367.5h1M60 367.5h1M65 367.5h1M109 367.5h1M112 367.5h2M115 367.5h2M118 367.5h1M120 367.5h2M125 367.5h1M129 367.5h1"/>
<text class="n" x="44.8" y="284.2" text-anchor="start">2.9</text>
<text class="n" x="147.3" y="284.2" text-anchor="end">4.1</text>
<rect x="132.3" y="353.5" width="15.5" height="11.5" fill="#fff"/>
<text class="n" x="146.8" y="363.5" text-anchor="end">49</text>
<rect class="pl" x="259.5" y="268.5" width="117" height="99"/>
<path class="q" d="M305.5 268.5V367.5M259.5 323.5H376.5"/>
<text class="t" x="262.8" y="372.2" text-anchor="middle">10<tspan dy="-1.2" font-size="2.6">0</tspan></text>
<text class="t" x="259.5" y="365.2" text-anchor="end">10<tspan dy="-1.2" font-size="2.6">0</tspan></text>
<text class="t" x="291.9" y="372.2" text-anchor="middle">10<tspan dy="-1.2" font-size="2.6">1</tspan></text>
<text class="t" x="259.5" y="340.3" text-anchor="end">10<tspan dy="-1.2" font-size="2.6">1</tspan></text>
<text class="t" x="321.0" y="372.2" text-anchor="middle">10<tspan dy="-1.2" font-size="2.6">2</tspan></text>
<text class="t" x="259.5" y="315.4" text-anchor="end">10<tspan dy="-1.2" font-size="2.6">2</tspan></text>
<text class="t" x="350.0" y="372.2" text-anchor="middle">10<tspan dy="-1.2" font-size="2.6">3</tspan></text>
<text class="t" x="259.5" y="290.4" text-anchor="end">10<tspan dy="-1.2" font-size="2.6">3</tspan></text>
<text class="t" x="379.1" y="372.2" text-anchor="middle">10<tspan dy="-1.2" font-size="2.6">4</tspan></text>
<text class="t" x="259.5" y="265.5" text-anchor="end">10<tspan dy="-1.2" font-size="2.6">4</tspan></text>
<path class="d" filter="url(#bl)" d="M278 281.5h1M273 284.5h1M288 285.5h1M277 287.5h1M277 288.5h1M286 288.5h1M270 289.5h1M273 289.5h1M282 289.5h1M282 290.5h1M277 291.5h1M281 291.5h1M296 291.5h1M263 292.5h1M266 292.5h1M279 292.5h1M283 292.5h1M299 292.5h1M263 293.5h1M272 293.5h1M279 293.5h1M293 294.5h1M307 294.5h1M261 295.5h1M298 295.5h1M346 295.5h1M280 296.5h1M291 296.5h1M293 296.5h1M295 296.5h1M284 297.5h1M286 297.5h1M290 297.5h1M299 297.5h1M301 297.5h1M271 298.5h2M280 298.5h1M307 298.5h1M266 299.5h1M279 299.5h1M324 299.5h1M287 300.5h1M325 300.5h1M287 301.5h1M292 301.5h1M270 302.5h1M276 302.5h1M278 302.5h1M293 302.5h1M303 302.5h1M309 302.5h1M322 302.5h1M281 303.5h1M288 303.5h1M294 303.5h1M296 303.5h1M305 303.5h1M282 304.5h1M290 304.5h1M294 304.5h1M302 304.5h1M266 305.5h1M273 305.5h1M275 305.5h2M287 305.5h1M290 305.5h1M292 305.5h1M295 305.5h1M311 305.5h1M331 305.5h1M286 306.5h2M297 306.5h2M308 306.5h1M338 306.5h1M346 306.5h1M272 307.5h1M315 307.5h1M332 307.5h1M338 307.5h1M263 308.5h1M273 308.5h1M288 308.5h1M295 308.5h1M301 308.5h1M315 308.5h1M319 308.5h1M330 308.5h2M343 308.5h1M269 309.5h1M281 309.5h1M290 309.5h2M294 309.5h1M304 309.5h2M311 309.5h1M344 309.5h1M361 309.5h1M276 310.5h1M284 310.5h1M301 310.5h1M303 310.5h2M315 310.5h1M338 310.5h1M344 310.5h1M350 310.5h1M354 310.5h1M279 311.5h1M290 311.5h2M303 311.5h1M306 311.5h1M315 311.5h1M334 311.5h1M343 311.5h1M346 311.5h1M356 311.5h1M287 312.5h1M303 312.5h1M311 312.5h1M316 312.5h1M333 312.5h1M347 312.5h1M280 313.5h1M282 313.5h1M300 313.5h1M302 313.5h1M304 313.5h2M312 313.5h1M320 313.5h1M331 313.5h1M339 313.5h2M344 313.5h1M274 314.5h1M290 314.5h1M296 314.5h1M298 314.5h1M301 314.5h1M308 314.5h1M329 314.5h1M331 314.5h1M334 314.5h1M338 314.5h2M291 315.5h1M303 315.5h1M311 315.5h1M319 315.5h4M324 315.5h1M338 315.5h1M344 315.5h1M352 315.5h1M275 316.5h1M292 316.5h1M307 316.5h1M311 316.5h1M322 316.5h1M324 316.5h1M338 316.5h1M344 316.5h1M353 316.5h2M356 316.5h1M285 317.5h1M293 317.5h1M295 317.5h1M299 317.5h2M316 317.5h2M319 317.5h1M324 317.5h1M333 317.5h1M340 317.5h1M342 317.5h1M344 317.5h1M275 318.5h1M282 318.5h2M285 318.5h1M287 318.5h2M291 318.5h1M297 318.5h1M305 318.5h1M310 318.5h1M320 318.5h1M326 318.5h1M334 318.5h1M338 318.5h5M344 318.5h1M346 318.5h2M369 318.5h1M290 319.5h1M299 319.5h1M302 319.5h1M306 319.5h1M309 319.5h1M314 319.5h1M317 319.5h1M324 319.5h1M326 319.5h1M328 319.5h1M336 319.5h1M338 319.5h1M340 319.5h1M344 319.5h3M351 319.5h2M281 320.5h2M293 320.5h1M295 320.5h1M297 320.5h2M302 320.5h3M307 320.5h2M313 320.5h1M318 320.5h1M323 320.5h1M332 320.5h1M334 320.5h1M336 320.5h2M339 320.5h1M342 320.5h2M345 320.5h1M348 320.5h1M351 320.5h2M354 320.5h1M356 320.5h1M267 321.5h1M276 321.5h1M286 321.5h1M297 321.5h1M301 321.5h1M306 321.5h3M315 321.5h1M319 321.5h1M321 321.5h1M323 321.5h1M326 321.5h1M330 321.5h1M334 321.5h4M339 321.5h1M341 321.5h2M345 321.5h1M354 321.5h1M272 322.5h1M286 322.5h1M292 322.5h1M298 322.5h1M304 322.5h1M311 322.5h1M313 322.5h1M315 322.5h1M317 322.5h1M327 322.5h2M332 322.5h1M334 322.5h3M338 322.5h4M343 322.5h1M345 322.5h1M349 322.5h1M353 322.5h2M278 323.5h1M287 323.5h1M292 323.5h2M296 323.5h1M302 323.5h1M304 323.5h1M306 323.5h1M312 323.5h1M314 323.5h1M318 323.5h2M324 323.5h1M327 323.5h1M330 323.5h3M334 323.5h1M336 323.5h12M349 323.5h2M352 323.5h1M263 324.5h1M277 324.5h2M282 324.5h1M289 324.5h1M298 324.5h2M303 324.5h1M309 324.5h1M311 324.5h1M314 324.5h3M318 324.5h1M322 324.5h3M328 324.5h1M332 324.5h1M334 324.5h1M337 324.5h1M341 324.5h4M346 324.5h2M351 324.5h1M276 325.5h1M284 325.5h1M289 325.5h1M293 325.5h1M296 325.5h1M298 325.5h2M304 325.5h2M307 325.5h3M314 325.5h1M317 325.5h2M320 325.5h3M325 325.5h4M330 325.5h3M334 325.5h1M336 325.5h2M339 325.5h11M352 325.5h1M354 325.5h1M356 325.5h1M368 325.5h1M275 326.5h1M282 326.5h1M284 326.5h1M287 326.5h1M290 326.5h2M294 326.5h1M298 326.5h2M301 326.5h4M306 326.5h6M313 326.5h3M319 326.5h2M322 326.5h3M329 326.5h3M334 326.5h9M344 326.5h4M349 326.5h2M354 326.5h1M283 327.5h2M286 327.5h2M291 327.5h1M293 327.5h1M297 327.5h4M302 327.5h1M304 327.5h2M309 327.5h1M312 327.5h1M314 327.5h1M317 327.5h1M319 327.5h1M322 327.5h1M325 327.5h3M332 327.5h1M336 327.5h4M341 327.5h8M353 327.5h1M364 327.5h1M271 328.5h1M277 328.5h4M283 328.5h2M289 328.5h1M292 328.5h1M295 328.5h2M298 328.5h1M300 328.5h3M304 328.5h1M306 328.5h6M313 328.5h2M319 328.5h1M321 328.5h5M327 328.5h4M332 328.5h21M354 328.5h2M357 328.5h2M361 328.5h1M274 329.5h1M279 329.5h2M284 329.5h1M287 329.5h2M290 329.5h1M292 329.5h2M295 329.5h1M298 329.5h3M303 329.5h4M308 329.5h6M315 329.5h3M319 329.5h3M326 329.5h1M328 329.5h2M332 329.5h1M334 329.5h18M354 329.5h1M266 330.5h1M273 330.5h1M277 330.5h2M280 330.5h1M284 330.5h1M287 330.5h1M291 330.5h2M298 330.5h2M301 330.5h4M307 330.5h1M309 330.5h1M311 330.5h3M315 330.5h1M317 330.5h1M319 330.5h5M326 330.5h3M330 330.5h18M349 330.5h1M351 330.5h1M353 330.5h3M263 331.5h1M267 331.5h1M277 331.5h1M280 331.5h1M282 331.5h1M284 331.5h1M290 331.5h1M296 331.5h2M299 331.5h2M302 331.5h1M304 331.5h4M309 331.5h2M312 331.5h1M314 331.5h3M318 331.5h1M320 331.5h5M326 331.5h1M328 331.5h23M353 331.5h2M279 332.5h1M281 332.5h1M285 332.5h3M289 332.5h1M291 332.5h1M293 332.5h1M296 332.5h1M298 332.5h10M310 332.5h3M314 332.5h4M319 332.5h3M325 332.5h4M330 332.5h22M353 332.5h1M276 333.5h1M278 333.5h1M281 333.5h1M284 333.5h2M287 333.5h18M307 333.5h4M312 333.5h4M318 333.5h4M323 333.5h2M326 333.5h4M331 333.5h25M357 333.5h1M266 334.5h1M269 334.5h1M278 334.5h1M280 334.5h2M285 334.5h1M289 334.5h1M291 334.5h1M293 334.5h2M296 334.5h3M300 334.5h1M302 334.5h5M308 334.5h14M323 334.5h1M327 334.5h20M348 334.5h5M354 334.5h3M358 334.5h1M360 334.5h1M261 335.5h1M269 335.5h1M271 335.5h1M274 335.5h2M277 335.5h4M283 335.5h2M286 335.5h2M289 335.5h2M292 335.5h4M297 335.5h3M301 335.5h3M307 335.5h4M312 335.5h2M315 335.5h3M319 335.5h2M322 335.5h3M326 335.5h6M333 335.5h23M277 336.5h2M282 336.5h1M284 336.5h5M291 336.5h1M293 336.5h9M304 336.5h10M315 336.5h4M321 336.5h1M323 336.5h33M263 337.5h1M265 337.5h1M269 337.5h1M275 337.5h1M281 337.5h1M283 337.5h1M285 337.5h4M291 337.5h8M301 337.5h6M309 337.5h1M312 337.5h6M319 337.5h6M326 337.5h27M354 337.5h4M263 338.5h2M273 338.5h2M278 338.5h1M280 338.5h2M284 338.5h1M289 338.5h1M291 338.5h4M296 338.5h1M298 338.5h2M301 338.5h8M310 338.5h16M328 338.5h3M332 338.5h23M261 339.5h1M264 339.5h1M277 339.5h1M280 339.5h1M282 339.5h4M289 339.5h3M293 339.5h2M296 339.5h5M302 339.5h8M311 339.5h7M320 339.5h6M327 339.5h2M330 339.5h25M356 339.5h1M358 339.5h1M262 340.5h1M268 340.5h1M271 340.5h1M281 340.5h1M285 340.5h1M287 340.5h1M289 340.5h1M293 340.5h5M299 340.5h1M301 340.5h2M305 340.5h2M308 340.5h3M312 340.5h3M316 340.5h6M323 340.5h1M325 340.5h4M330 340.5h23M355 340.5h1M358 340.5h1M269 341.5h1M271 341.5h1M277 341.5h1M281 341.5h3M286 341.5h1M289 341.5h1M292 341.5h11M305 341.5h4M310 341.5h6M317 341.5h9M327 341.5h27M355 341.5h2M267 342.5h1M284 342.5h1M286 342.5h3M290 342.5h3M294 342.5h1M296 342.5h5M303 342.5h2M306 342.5h10M317 342.5h7M325 342.5h1M328 342.5h26M355 342.5h1M359 342.5h1M272 343.5h1M275 343.5h1M282 343.5h4M287 343.5h3M291 343.5h5M297 343.5h1M299 343.5h2M302 343.5h2M306 343.5h10M318 343.5h3M322 343.5h30M353 343.5h2M268 344.5h1M270 344.5h1M272 344.5h1M282 344.5h2M287 344.5h4M292 344.5h4M297 344.5h1M299 344.5h1M301 344.5h1M305 344.5h1M307 344.5h7M316 344.5h1M318 344.5h4M323 344.5h31M355 344.5h1M357 344.5h1M362 344.5h2M268 345.5h1M275 345.5h1M280 345.5h1M286 345.5h1M289 345.5h1M291 345.5h4M296 345.5h1M298 345.5h3M302 345.5h2M306 345.5h8M315 345.5h1M318 345.5h1M320 345.5h35M357 345.5h1M264 346.5h1M272 346.5h1M274 346.5h1M278 346.5h1M280 346.5h1M282 346.5h1M284 346.5h1M286 346.5h4M293 346.5h6M300 346.5h2M303 346.5h5M309 346.5h1M311 346.5h8M321 346.5h5M328 346.5h26M355 346.5h2M271 347.5h1M276 347.5h1M278 347.5h1M280 347.5h1M283 347.5h1M290 347.5h2M295 347.5h1M298 347.5h3M302 347.5h2M305 347.5h1M307 347.5h1M309 347.5h4M314 347.5h1M316 347.5h3M320 347.5h7M328 347.5h29M358 347.5h1M266 348.5h1M281 348.5h1M283 348.5h2M286 348.5h5M292 348.5h1M294 348.5h1M296 348.5h1M302 348.5h2M305 348.5h1M308 348.5h2M313 348.5h1M316 348.5h1M318 348.5h2M321 348.5h1M323 348.5h1M325 348.5h1M328 348.5h27M360 348.5h1M275 349.5h1M282 349.5h2M288 349.5h1M294 349.5h1M296 349.5h2M299 349.5h2M305 349.5h2M311 349.5h1M314 349.5h2M317 349.5h2M322 349.5h1M325 349.5h1M327 349.5h1M329 349.5h1M331 349.5h3M335 349.5h20M356 349.5h1M271 350.5h1M283 350.5h1M287 350.5h2M290 350.5h2M295 350.5h3M301 350.5h1M304 350.5h1M308 350.5h6M315 350.5h2M319 350.5h6M326 350.5h5M332 350.5h22M279 351.5h1M281 351.5h1M286 351.5h2M292 351.5h2M296 351.5h1M298 351.5h1M300 351.5h2M304 351.5h7M312 351.5h2M315 351.5h3M319 351.5h2M322 351.5h2M328 351.5h20M349 351.5h2M352 351.5h3M365 351.5h1M287 352.5h2M291 352.5h1M294 352.5h1M301 352.5h1M303 352.5h2M307 352.5h1M311 352.5h1M316 352.5h2M319 352.5h2M323 352.5h3M328 352.5h23M352 352.5h4M277 353.5h1M286 353.5h1M293 353.5h1M297 353.5h1M306 353.5h1M308 353.5h5M314 353.5h4M325 353.5h1M327 353.5h4M332 353.5h21M354 353.5h1M284 354.5h1M287 354.5h1M290 354.5h1M292 354.5h1M299 354.5h1M301 354.5h1M304 354.5h1M306 354.5h3M312 354.5h4M321 354.5h3M326 354.5h2M329 354.5h1M331 354.5h23M355 354.5h1M360 354.5h1M301 355.5h2M307 355.5h2M312 355.5h1M314 355.5h1M316 355.5h2M319 355.5h1M322 355.5h1M327 355.5h4M332 355.5h1M334 355.5h2M337 355.5h15M355 355.5h1M291 356.5h1M294 356.5h1M296 356.5h1M314 356.5h1M323 356.5h2M328 356.5h2M331 356.5h1M333 356.5h14M348 356.5h2M351 356.5h1M361 356.5h1M263 357.5h1M272 357.5h1M292 357.5h1M296 357.5h1M308 357.5h1M310 357.5h2M319 357.5h1M329 357.5h3M333 357.5h1M335 357.5h14M350 357.5h2M353 357.5h1M357 357.5h1M286 358.5h1M309 358.5h1M318 358.5h2M323 358.5h1M326 358.5h1M330 358.5h1M332 358.5h7M340 358.5h2M343 358.5h7M351 358.5h1M353 358.5h2M288 359.5h1M300 359.5h1M307 359.5h1M323 359.5h1M327 359.5h2M330 359.5h2M334 359.5h1M336 359.5h1M338 359.5h2M341 359.5h1M343 359.5h6M351 359.5h1M353 359.5h1M290 360.5h1M326 360.5h1M328 360.5h4M333 360.5h3M337 360.5h2M341 360.5h3M345 360.5h2M348 360.5h1M350 360.5h2M356 360.5h1M362 360.5h1M299 361.5h1M302 361.5h2M315 361.5h1M318 361.5h1M328 361.5h1M332 361.5h6M339 361.5h2M343 361.5h6M351 361.5h1M283 362.5h1M318 362.5h1M329 362.5h1M332 362.5h2M337 362.5h1M340 362.5h2M346 362.5h2M353 362.5h1M332 363.5h1M338 363.5h2M341 363.5h2M344 363.5h2M348 363.5h2M285 364.5h1M335 364.5h1M339 364.5h1M347 364.5h2M322 365.5h1M324 365.5h1M329 365.5h1M337 365.5h4M342 365.5h3M346 365.5h2M351 365.5h1M319 366.5h1M324 366.5h1M336 366.5h1M342 366.5h3M346 366.5h1M349 366.5h1"/>
<text class="n" x="267.4" y="283.8" text-anchor="start">2.7</text>
<text class="n" x="371.5" y="283.8" text-anchor="end">2.9</text>
<rect x="355.5" y="353.2" width="15.5" height="11.5" fill="#fff"/>
<text class="n" x="370" y="363.2" text-anchor="end">83</text>
<rect class="pl" x="395.5" y="270.5" width="112" height="98"/>
<path class="q" d="M432.5 270.5V368.5M432 335.5H507.5"/>
<text class="t" x="398.6" y="373.0" text-anchor="middle">10<tspan dy="-1.2" font-size="2.6">0</tspan></text>
<text class="t" x="395.3" y="366.0" text-anchor="end">10<tspan dy="-1.2" font-size="2.6">0</tspan></text>
<text class="t" x="426.6" y="373.0" text-anchor="middle">10<tspan dy="-1.2" font-size="2.6">1</tspan></text>
<text class="t" x="395.3" y="341.4" text-anchor="end">10<tspan dy="-1.2" font-size="2.6">1</tspan></text>
<text class="t" x="454.5" y="373.0" text-anchor="middle">10<tspan dy="-1.2" font-size="2.6">2</tspan></text>
<text class="t" x="395.3" y="316.9" text-anchor="end">10<tspan dy="-1.2" font-size="2.6">2</tspan></text>
<text class="t" x="482.4" y="373.0" text-anchor="middle">10<tspan dy="-1.2" font-size="2.6">3</tspan></text>
<text class="t" x="395.3" y="292.3" text-anchor="end">10<tspan dy="-1.2" font-size="2.6">3</tspan></text>
<text class="t" x="510.4" y="373.0" text-anchor="middle">10<tspan dy="-1.2" font-size="2.6">4</tspan></text>
<text class="t" x="395.3" y="267.7" text-anchor="end">10<tspan dy="-1.2" font-size="2.6">4</tspan></text>
<path class="d" filter="url(#bl)" d="M422 278.5h1M424 280.5h1M419 281.5h1M425 282.5h1M415 283.5h1M417 284.5h1M416 286.5h1M422 286.5h1M462 287.5h1M419 288.5h1M423 290.5h2M431 290.5h1M401 291.5h1M407 291.5h1M422 291.5h1M425 291.5h1M429 291.5h1M422 292.5h1M424 293.5h1M431 293.5h1M434 293.5h1M439 293.5h1M444 293.5h1M406 294.5h1M410 294.5h1M418 294.5h1M424 294.5h1M458 294.5h1M407 295.5h1M412 295.5h1M415 295.5h4M420 295.5h1M423 295.5h1M410 296.5h1M418 296.5h1M425 296.5h2M428 296.5h1M412 297.5h1M414 297.5h2M418 297.5h1M420 297.5h1M422 297.5h1M410 298.5h2M413 298.5h2M416 298.5h1M418 298.5h1M420 298.5h2M424 298.5h1M426 298.5h3M412 299.5h1M416 299.5h1M422 299.5h1M425 299.5h2M462 299.5h1M409 300.5h2M413 300.5h2M417 300.5h2M420 300.5h1M424 300.5h4M431 300.5h1M416 301.5h1M420 301.5h3M428 301.5h1M434 301.5h1M463 301.5h1M408 302.5h1M417 302.5h2M420 302.5h2M423 302.5h1M425 302.5h2M429 302.5h1M431 302.5h1M397 303.5h1M407 303.5h1M412 303.5h3M416 303.5h3M420 303.5h1M427 303.5h1M429 303.5h2M438 303.5h1M440 303.5h1M456 303.5h1M461 303.5h1M407 304.5h1M412 304.5h1M415 304.5h1M417 304.5h4M423 304.5h7M433 304.5h1M403 305.5h1M405 305.5h1M409 305.5h2M413 305.5h6M422 305.5h4M428 305.5h1M430 305.5h2M435 305.5h1M437 305.5h1M467 305.5h1M401 306.5h1M406 306.5h3M415 306.5h3M419 306.5h1M421 306.5h6M430 306.5h3M441 306.5h1M457 306.5h1M398 307.5h1M405 307.5h1M407 307.5h3M411 307.5h1M413 307.5h1M415 307.5h1M417 307.5h11M430 307.5h3M397 308.5h1M401 308.5h1M406 308.5h1M408 308.5h1M410 308.5h2M414 308.5h1M416 308.5h4M421 308.5h1M424 308.5h2M427 308.5h1M430 308.5h2M436 308.5h3M450 308.5h1M406 309.5h1M408 309.5h1M410 309.5h3M415 309.5h8M426 309.5h3M430 309.5h1M398 310.5h2M407 310.5h1M414 310.5h1M416 310.5h1M418 310.5h4M423 310.5h5M431 310.5h1M433 310.5h1M435 310.5h1M439 310.5h1M444 310.5h1M450 310.5h1M463 310.5h1M397 311.5h1M400 311.5h1M409 311.5h4M414 311.5h17M433 311.5h1M436 311.5h1M442 311.5h1M402 312.5h1M405 312.5h2M408 312.5h1M410 312.5h1M413 312.5h4M418 312.5h8M427 312.5h1M429 312.5h2M434 312.5h2M458 312.5h1M399 313.5h3M406 313.5h1M410 313.5h1M412 313.5h5M418 313.5h3M423 313.5h1M425 313.5h7M437 313.5h1M406 314.5h1M408 314.5h2M411 314.5h1M413 314.5h2M417 314.5h8M426 314.5h1M428 314.5h4M437 314.5h1M454 314.5h1M397 315.5h2M401 315.5h1M405 315.5h1M409 315.5h4M414 315.5h1M416 315.5h3M420 315.5h3M424 315.5h4M429 315.5h1M431 315.5h1M433 315.5h1M436 315.5h1M440 315.5h1M397 316.5h2M401 316.5h5M410 316.5h1M413 316.5h4M418 316.5h4M424 316.5h2M427 316.5h4M436 316.5h1M439 316.5h1M400 317.5h1M407 317.5h7M415 317.5h10M426 317.5h2M430 317.5h1M450 317.5h1M401 318.5h1M403 318.5h1M407 318.5h1M409 318.5h20M430 318.5h1M432 318.5h1M402 319.5h4M408 319.5h1M413 319.5h10M426 319.5h3M430 319.5h3M434 319.5h1M436 319.5h1M442 319.5h2M449 319.5h1M470 319.5h1M399 320.5h1M401 320.5h6M412 320.5h1M414 320.5h10M426 320.5h3M430 320.5h2M441 320.5h1M444 320.5h1M405 321.5h1M408 321.5h2M411 321.5h5M417 321.5h11M429 321.5h2M433 321.5h1M436 321.5h1M438 321.5h1M464 321.5h1M484 321.5h1M401 322.5h1M407 322.5h1M409 322.5h6M416 322.5h2M419 322.5h1M421 322.5h5M427 322.5h2M430 322.5h1M436 322.5h1M439 322.5h1M443 322.5h2M453 322.5h1M400 323.5h3M406 323.5h1M408 323.5h2M411 323.5h3M415 323.5h1M417 323.5h2M421 323.5h9M433 323.5h1M435 323.5h2M404 324.5h1M406 324.5h1M408 324.5h1M410 324.5h1M412 324.5h2M415 324.5h2M418 324.5h4M423 324.5h6M430 324.5h2M433 324.5h2M448 324.5h1M454 324.5h1M399 325.5h2M402 325.5h1M404 325.5h4M409 325.5h2M412 325.5h5M418 325.5h2M421 325.5h5M427 325.5h3M431 325.5h1M442 325.5h1M402 326.5h2M407 326.5h1M410 326.5h1M412 326.5h1M414 326.5h11M426 326.5h1M429 326.5h3M436 326.5h1M472 326.5h1M476 326.5h1M397 327.5h3M402 327.5h1M404 327.5h2M409 327.5h3M413 327.5h8M422 327.5h2M426 327.5h5M440 327.5h1M399 328.5h1M402 328.5h1M404 328.5h5M410 328.5h1M414 328.5h17M440 328.5h1M463 328.5h1M398 329.5h2M403 329.5h2M406 329.5h1M408 329.5h1M410 329.5h14M425 329.5h2M429 329.5h2M434 329.5h1M449 329.5h1M465 329.5h1M397 330.5h1M400 330.5h1M402 330.5h2M405 330.5h3M410 330.5h2M413 330.5h2M416 330.5h11M428 330.5h4M433 330.5h1M436 330.5h2M444 330.5h1M454 330.5h1M398 331.5h1M403 331.5h2M406 331.5h2M411 331.5h10M422 331.5h2M425 331.5h2M428 331.5h7M438 331.5h1M446 331.5h1M452 331.5h1M455 331.5h1M465 331.5h1M397 332.5h5M405 332.5h18M424 332.5h4M429 332.5h3M433 332.5h2M437 332.5h1M443 332.5h2M446 332.5h1M473 332.5h1M396 333.5h1M400 333.5h2M403 333.5h4M408 333.5h5M414 333.5h2M417 333.5h1M419 333.5h12M432 333.5h1M438 333.5h1M441 333.5h1M445 333.5h1M448 333.5h1M398 334.5h4M403 334.5h2M407 334.5h5M413 334.5h2M417 334.5h10M428 334.5h3M433 334.5h2M437 334.5h1M441 334.5h1M443 334.5h1M445 334.5h1M455 334.5h1M469 334.5h1M397 335.5h5M403 335.5h2M406 335.5h3M410 335.5h4M415 335.5h9M425 335.5h3M429 335.5h3M434 335.5h1M437 335.5h1M443 335.5h1M453 335.5h1M466 335.5h1M471 335.5h1M474 335.5h1M397 336.5h6M404 336.5h1M406 336.5h5M412 336.5h15M429 336.5h5M436 336.5h1M439 336.5h1M469 336.5h1M397 337.5h2M402 337.5h6M409 337.5h1M411 337.5h2M414 337.5h2M417 337.5h4M422 337.5h1M424 337.5h1M426 337.5h2M430 337.5h2M434 337.5h1M436 337.5h2M441 337.5h2M446 337.5h5M457 337.5h1M459 337.5h1M465 337.5h1M397 338.5h5M403 338.5h12M416 338.5h2M419 338.5h2M422 338.5h3M427 338.5h1M429 338.5h2M433 338.5h2M436 338.5h1M440 338.5h1M447 338.5h4M452 338.5h2M459 338.5h1M461 338.5h1M467 338.5h1M476 338.5h1M398 339.5h1M400 339.5h2M406 339.5h7M414 339.5h9M424 339.5h2M427 339.5h3M431 339.5h3M436 339.5h1M442 339.5h1M445 339.5h1M447 339.5h1M449 339.5h2M453 339.5h1M458 339.5h1M462 339.5h1M469 339.5h1M471 339.5h1M397 340.5h2M400 340.5h2M403 340.5h5M409 340.5h4M414 340.5h12M427 340.5h3M432 340.5h1M435 340.5h1M437 340.5h1M440 340.5h1M443 340.5h1M449 340.5h2M457 340.5h2M462 340.5h1M469 340.5h1M471 340.5h1M476 340.5h1M397 341.5h2M400 341.5h6M407 341.5h4M412 341.5h3M416 341.5h11M428 341.5h4M437 341.5h1M440 341.5h1M444 341.5h2M447 341.5h1M453 341.5h3M458 341.5h1M397 342.5h2M400 342.5h3M404 342.5h7M412 342.5h3M416 342.5h2M419 342.5h1M422 342.5h4M427 342.5h1M431 342.5h1M433 342.5h3M437 342.5h1M440 342.5h1M442 342.5h1M444 342.5h2M447 342.5h1M452 342.5h1M462 342.5h1M465 342.5h2M469 342.5h1M397 343.5h17M415 343.5h6M422 343.5h11M435 343.5h3M440 343.5h1M442 343.5h1M444 343.5h1M453 343.5h1M456 343.5h1M460 343.5h1M464 343.5h1M468 343.5h1M483 343.5h1M396 344.5h3M400 344.5h16M417 344.5h2M420 344.5h2M424 344.5h5M430 344.5h1M432 344.5h1M435 344.5h1M437 344.5h1M439 344.5h1M442 344.5h1M444 344.5h4M457 344.5h1M479 344.5h1M398 345.5h3M403 345.5h20M425 345.5h6M432 345.5h1M435 345.5h2M438 345.5h1M441 345.5h1M443 345.5h1M446 345.5h1M448 345.5h1M451 345.5h1M454 345.5h2M457 345.5h1M459 345.5h1M461 345.5h1M470 345.5h1M473 345.5h1M490 345.5h1M397 346.5h11M409 346.5h1M411 346.5h2M414 346.5h3M418 346.5h3M422 346.5h2M425 346.5h1M427 346.5h1M431 346.5h1M435 346.5h1M439 346.5h3M444 346.5h1M448 346.5h3M454 346.5h1M456 346.5h1M458 346.5h1M464 346.5h1M488 346.5h1M399 347.5h2M402 347.5h10M414 347.5h4M419 347.5h6M428 347.5h1M430 347.5h2M433 347.5h2M436 347.5h1M440 347.5h7M448 347.5h1M454 347.5h2M457 347.5h1M460 347.5h1M462 347.5h1M464 347.5h1M467 347.5h1M470 347.5h1M480 347.5h1M397 348.5h2M400 348.5h3M404 348.5h10M415 348.5h10M426 348.5h1M428 348.5h2M431 348.5h1M433 348.5h4M439 348.5h1M441 348.5h2M445 348.5h2M451 348.5h5M459 348.5h1M462 348.5h4M472 348.5h1M397 349.5h1M399 349.5h2M402 349.5h8M411 349.5h1M413 349.5h2M416 349.5h5M422 349.5h3M426 349.5h4M431 349.5h1M434 349.5h6M442 349.5h1M444 349.5h1M449 349.5h2M455 349.5h3M462 349.5h1M464 349.5h2M467 349.5h3M487 349.5h1M399 350.5h1M401 350.5h4M406 350.5h4M414 350.5h1M419 350.5h1M421 350.5h1M423 350.5h10M434 350.5h3M438 350.5h1M441 350.5h1M443 350.5h1M445 350.5h1M447 350.5h1M449 350.5h1M451 350.5h5M459 350.5h4M464 350.5h2M479 350.5h1M397 351.5h1M399 351.5h1M401 351.5h8M411 351.5h2M414 351.5h5M420 351.5h3M424 351.5h1M426 351.5h1M428 351.5h2M431 351.5h4M437 351.5h1M442 351.5h1M446 351.5h1M449 351.5h1M453 351.5h4M459 351.5h1M461 351.5h1M463 351.5h2M399 352.5h4M404 352.5h7M412 352.5h4M419 352.5h1M422 352.5h4M427 352.5h1M429 352.5h4M435 352.5h1M438 352.5h1M440 352.5h1M444 352.5h1M446 352.5h3M452 352.5h2M455 352.5h1M457 352.5h3M461 352.5h2M464 352.5h1M396 353.5h3M400 353.5h8M409 353.5h3M414 353.5h3M418 353.5h3M423 353.5h2M426 353.5h1M428 353.5h1M432 353.5h2M435 353.5h3M441 353.5h2M445 353.5h2M448 353.5h2M457 353.5h3M463 353.5h2M468 353.5h1M471 353.5h1M478 353.5h1M483 353.5h1M396 354.5h2M399 354.5h1M401 354.5h5M407 354.5h2M410 354.5h1M412 354.5h1M414 354.5h1M416 354.5h1M418 354.5h1M420 354.5h1M423 354.5h4M430 354.5h3M434 354.5h1M437 354.5h2M443 354.5h2M452 354.5h1M454 354.5h1M456 354.5h1M458 354.5h1M463 354.5h2M473 354.5h1M476 354.5h1M397 355.5h10M408 355.5h1M410 355.5h1M412 355.5h1M414 355.5h2M417 355.5h4M422 355.5h4M428 355.5h2M431 355.5h3M437 355.5h4M443 355.5h1M445 355.5h1M447 355.5h1M450 355.5h2M455 355.5h5M396 356.5h10M407 356.5h4M412 356.5h1M414 356.5h7M424 356.5h1M428 356.5h4M433 356.5h1M447 356.5h2M450 356.5h1M452 356.5h2M456 356.5h1M461 356.5h1M468 356.5h3M474 356.5h1M487 356.5h1M397 357.5h1M399 357.5h5M406 357.5h3M410 357.5h3M414 357.5h3M418 357.5h1M420 357.5h2M426 357.5h1M428 357.5h1M432 357.5h1M435 357.5h1M440 357.5h3M445 357.5h1M447 357.5h1M450 357.5h1M452 357.5h1M454 357.5h1M457 357.5h1M461 357.5h1M472 357.5h1M396 358.5h6M403 358.5h2M406 358.5h1M408 358.5h1M410 358.5h1M415 358.5h2M418 358.5h1M420 358.5h2M424 358.5h1M426 358.5h1M428 358.5h2M433 358.5h1M439 358.5h2M442 358.5h2M445 358.5h2M451 358.5h1M455 358.5h4M464 358.5h1M475 358.5h1M400 359.5h2M404 359.5h2M408 359.5h3M412 359.5h1M414 359.5h2M418 359.5h1M420 359.5h4M426 359.5h1M428 359.5h3M434 359.5h2M438 359.5h4M444 359.5h1M446 359.5h2M449 359.5h1M451 359.5h1M453 359.5h1M455 359.5h5M462 359.5h1M397 360.5h1M399 360.5h2M403 360.5h2M408 360.5h1M411 360.5h3M417 360.5h1M420 360.5h1M422 360.5h5M429 360.5h1M431 360.5h3M437 360.5h3M442 360.5h1M444 360.5h3M453 360.5h3M467 360.5h1M397 361.5h2M401 361.5h2M404 361.5h2M407 361.5h5M418 361.5h1M420 361.5h1M423 361.5h1M425 361.5h1M429 361.5h1M436 361.5h1M443 361.5h1M446 361.5h4M455 361.5h2M459 361.5h1M465 361.5h1M467 361.5h1M472 361.5h1M400 362.5h9M410 362.5h1M412 362.5h3M417 362.5h1M422 362.5h1M425 362.5h1M428 362.5h4M444 362.5h3M449 362.5h2M453 362.5h1M455 362.5h1M460 362.5h1M462 362.5h1M465 362.5h1M469 362.5h1M396 363.5h1M399 363.5h6M406 363.5h2M409 363.5h2M414 363.5h2M417 363.5h1M419 363.5h4M426 363.5h5M433 363.5h1M437 363.5h2M440 363.5h1M442 363.5h1M444 363.5h1M447 363.5h1M450 363.5h1M459 363.5h1M462 363.5h1M467 363.5h1M397 364.5h1M399 364.5h7M411 364.5h1M413 364.5h2M417 364.5h1M420 364.5h1M422 364.5h1M427 364.5h3M431 364.5h3M437 364.5h1M441 364.5h1M443 364.5h1M445 364.5h1M451 364.5h3M455 364.5h1M463 364.5h1M468 364.5h1M473 364.5h1M397 365.5h1M400 365.5h2M404 365.5h1M407 365.5h1M410 365.5h1M413 365.5h1M416 365.5h1M418 365.5h1M427 365.5h1M435 365.5h1M438 365.5h1M442 365.5h1M447 365.5h2M451 365.5h1M455 365.5h1M458 365.5h1M461 365.5h1M464 365.5h2M400 366.5h2M403 366.5h2M407 366.5h1M412 366.5h1M417 366.5h1M421 366.5h2M430 366.5h1M436 366.5h2M440 366.5h1M444 366.5h1M446 366.5h2M450 366.5h1M454 366.5h1M458 366.5h1M467 366.5h1M469 366.5h1M399 367.5h3M406 367.5h1M411 367.5h2M415 367.5h1M421 367.5h2M432 367.5h1M437 367.5h1M448 367.5h1M450 367.5h1M455 367.5h1M461 367.5h1"/>
<text class="n" x="401" y="285.6" text-anchor="start">37</text>
<text class="n" x="503" y="285.6" text-anchor="end">4.7</text>
<text class="n" x="501.8" y="365.8" text-anchor="end">20</text>
<text font-size="12" textLength="91.8" lengthAdjust="spacingAndGlyphs" transform="translate(11 295.4) rotate(-90)">CD14 expression</text>
<path class="ln" stroke-width="1.5" d="M7.2 201V176"/><path fill="#111" d="M2.7 176.6H11.7L7.2 167.8Z"/>
<text x="221.3" y="392.5" font-size="12" textLength="90.5" lengthAdjust="spacingAndGlyphs">CD1a expression</text>
<path class="ln" stroke-width="1.5" d="M318.8 389.6H347.4"/>
<path fill="#111" d="M346.4 385.6V393.6L356.4 389.6Z"/>
<path class="ln" stroke-width="1.9" d="M172.0 474.4V690.0H405.5"/>
<path class="ln" stroke-width="1.6" d="M172.0 681.2H405"/>
<path class="ln" stroke-width="1.3" d="M168.2 690.0H172.0M169.1 673.8H172.0M169.1 664.3H172.0M169.1 657.5H172.0M169.1 652.3H172.0M169.1 648.1H172.0M169.1 644.4H172.0M169.1 641.3H172.0M169.1 638.6H172.0M168.2 636.1H172.0M169.1 619.9H172.0M169.1 610.4H172.0M169.1 603.6H172.0M169.1 598.4H172.0M169.1 594.2H172.0M169.1 590.5H172.0M169.1 587.4H172.0M169.1 584.7H172.0M168.2 582.2H172.0M169.1 566.0H172.0M169.1 556.5H172.0M169.1 549.7H172.0M169.1 544.5H172.0M169.1 540.3H172.0M169.1 536.6H172.0M169.1 533.5H172.0M169.1 530.8H172.0M168.2 528.3H172.0M169.1 512.1H172.0M169.1 502.6H172.0M169.1 495.8H172.0M169.1 490.6H172.0M169.1 486.4H172.0M169.1 482.7H172.0M169.1 479.6H172.0M169.1 476.9H172.0M168.2 474.4H172.0"/>
<text x="148" y="692.9" font-size="10.3">10<tspan dx="0.2" dy="-3.7" font-size="9.5">2</tspan></text>
<text x="148" y="639.0" font-size="10.3">10<tspan dx="0.2" dy="-3.7" font-size="9.5">3</tspan></text>
<text x="148" y="585.1" font-size="10.3">10<tspan dx="0.2" dy="-3.7" font-size="9.5">4</tspan></text>
<text x="148" y="531.2" font-size="10.3">10<tspan dx="0.2" dy="-3.7" font-size="9.5">5</tspan></text>
<text x="148" y="477.3" font-size="10.3">10<tspan dx="0.2" dy="-3.7" font-size="9.5">6</tspan></text>
<text font-size="9.4" text-anchor="end" transform="translate(174.6 695.5) rotate(-90)">1/5</text>
<text font-size="9.4" text-anchor="end" transform="translate(200.4 695.5) rotate(-90)">1/10</text>
<text font-size="9.4" text-anchor="end" transform="translate(226.2 695.5) rotate(-90)">1/20</text>
<text font-size="9.4" text-anchor="end" transform="translate(252.0 695.5) rotate(-90)">1/40</text>
<text font-size="9.4" text-anchor="end" transform="translate(277.8 695.5) rotate(-90)">1/80</text>
<text font-size="9.4" text-anchor="end" transform="translate(303.6 695.5) rotate(-90)">1/160</text>
<text font-size="9.4" text-anchor="end" transform="translate(329.4 695.5) rotate(-90)">1/320</text>
<text font-size="9.4" text-anchor="end" transform="translate(355.2 695.5) rotate(-90)">1/640</text>
<text font-size="9.4" text-anchor="end" transform="translate(381.0 695.5) rotate(-90)">1/1280</text>
<text font-size="9.4" text-anchor="end" transform="translate(406.8 695.5) rotate(-90)">1/2560</text>
<path class="ln" stroke-width="1.1" d="M172.0 690.0v3M197.8 690.0v3M223.6 690.0v3M249.4 690.0v3M275.2 690.0v3M301.0 690.0v3M326.8 690.0v3M352.6 690.0v3M378.4 690.0v3M404.2 690.0v3"/>
<text class="b" x="247.8" y="739" font-size="10.2" textLength="81.5" lengthAdjust="spacingAndGlyphs">Ratio DC/T cells</text>
<text class="b" font-size="10.6" textLength="121.6" lengthAdjust="spacingAndGlyphs" transform="translate(113.3 648.6) rotate(-90)">thymidine incorporation</text>
<text font-size="10.6" textLength="27.2" lengthAdjust="spacingAndGlyphs" transform="translate(127 601) rotate(-90)">(cpm)</text>
<polyline class="ln" stroke-width="1.9" points="172.0,543 197.8,548 223.6,563 249.4,591.2 275.2,617.4 301.0,617.4 326.8,656 352.6,675.3 378.4,675.3 404.2,681.1"/>
<path class="ln" stroke-width="1.6" d="M172.0 538V548M168.2 538h7.6M168.2 548h7.6M197.8 545V551M194.0 545h7.6M194.0 551h7.6M223.6 560V566M219.8 560h7.6M219.8 566h7.6M249.4 580.8V610.9M245.6 580.8h7.6M245.6 610.9h7.6M275.2 603.7V649.1M271.4 603.7h7.6M271.4 649.1h7.6M301.0 602.7V662.5M297.2 602.7h7.6M297.2 662.5h7.6M326.8 643.6V682.1M323.0 643.6h7.6M323.0 682.1h7.6M352.6 672V678.5M348.8 672h7.6M348.8 678.5h7.6M378.4 671.5V680.5M374.6 671.5h7.6M374.6 680.5h7.6"/>
<rect x="169.4" y="540.4" width="5.2" height="5.2" fill="#fff" stroke="#111" stroke-width="1.6"/>
<rect x="195.2" y="545.4" width="5.2" height="5.2" fill="#fff" stroke="#111" stroke-width="1.6"/>
<rect x="221.0" y="560.4" width="5.2" height="5.2" fill="#fff" stroke="#111" stroke-width="1.6"/>
<rect x="246.8" y="588.6" width="5.2" height="5.2" fill="#fff" stroke="#111" stroke-width="1.6"/>
<rect x="272.6" y="614.8" width="5.2" height="5.2" fill="#fff" stroke="#111" stroke-width="1.6"/>
<rect x="298.4" y="614.8" width="5.2" height="5.2" fill="#fff" stroke="#111" stroke-width="1.6"/>
<rect x="324.2" y="653.4" width="5.2" height="5.2" fill="#fff" stroke="#111" stroke-width="1.6"/>
<rect x="350.0" y="672.7" width="5.2" height="5.2" fill="#fff" stroke="#111" stroke-width="1.6"/>
<rect x="375.8" y="672.7" width="5.2" height="5.2" fill="#fff" stroke="#111" stroke-width="1.6"/>
<rect x="401.6" y="678.5" width="5.2" height="5.2" fill="#fff" stroke="#111" stroke-width="1.6"/>
<polyline class="ln" stroke-width="1.9" points="172.0,532.5 197.8,541.3 223.6,548 249.4,556.4 275.2,566.1 301.0,573.2 326.8,580.8 352.6,591.2 378.4,602.3 404.2,616.2"/>
<path class="ln" stroke-width="1.6" d="M172.0 529V536M168.2 529h7.6M168.2 536h7.6M197.8 536V546M194.0 536h7.6M194.0 546h7.6M223.6 544V551M219.8 544h7.6M219.8 551h7.6M249.4 551V560M245.6 551h7.6M245.6 560h7.6M275.2 561V571M271.4 561h7.6M271.4 571h7.6M301.0 569V577.5M297.2 569h7.6M297.2 577.5h7.6M326.8 575.5V586M323.0 575.5h7.6M323.0 586h7.6M352.6 586V596.5M348.8 586h7.6M348.8 596.5h7.6M378.4 594V610M374.6 594h7.6M374.6 610h7.6M404.2 602.7V630M400.4 602.7h7.6M400.4 630h7.6"/>
<path fill="#111" d="M168.1 535.5h7.8L172.0 528.5Z"/>
<path fill="#111" d="M193.9 544.3h7.8L197.8 537.3Z"/>
<path fill="#111" d="M219.7 551.0h7.8L223.6 544.0Z"/>
<path fill="#111" d="M245.5 559.4h7.8L249.4 552.4Z"/>
<path fill="#111" d="M271.3 569.1h7.8L275.2 562.1Z"/>
<path fill="#111" d="M297.1 576.2h7.8L301.0 569.2Z"/>
<path fill="#111" d="M322.9 583.8h7.8L326.8 576.8Z"/>
<path fill="#111" d="M348.7 594.2h7.8L352.6 587.2Z"/>
<path fill="#111" d="M374.5 605.3h7.8L378.4 598.3Z"/>
<path fill="#111" d="M400.3 619.2h7.8L404.2 612.2Z"/>
<polyline class="ln" stroke-width="1.9" points="172.0,533 197.8,527 223.6,532.5 249.4,533.3 275.2,538.5 301.0,547.1 326.8,563.8 352.6,574.2 378.4,604 404.2,629.5"/>
<path class="ln" stroke-width="1.6" d="M172.0 530V536M168.2 530h7.6M168.2 536h7.6M197.8 524.5V529.5M194.0 524.5h7.6M194.0 529.5h7.6M223.6 528V537M219.8 528h7.6M219.8 537h7.6M249.4 529V537.5M245.6 529h7.6M245.6 537.5h7.6M275.2 535V542M271.4 535h7.6M271.4 542h7.6M301.0 542V552.5M297.2 542h7.6M297.2 552.5h7.6M326.8 559.5V568M323.0 559.5h7.6M323.0 568h7.6M352.6 566V583M348.8 566h7.6M348.8 583h7.6M378.4 592.9V631.1M374.6 592.9h7.6M374.6 631.1h7.6M404.2 602.7V646.2M400.4 602.7h7.6M400.4 646.2h7.6"/>
<circle cx="172.0" cy="533.0" r="3.6" fill="#111"/>
<circle cx="197.8" cy="527.0" r="3.6" fill="#111"/>
<circle cx="223.6" cy="532.5" r="3.6" fill="#111"/>
<circle cx="249.4" cy="533.3" r="3.6" fill="#111"/>
<circle cx="275.2" cy="538.5" r="3.6" fill="#111"/>
<circle cx="301.0" cy="547.1" r="3.6" fill="#111"/>
<circle cx="326.8" cy="563.8" r="3.6" fill="#111"/>
<circle cx="352.6" cy="574.2" r="3.6" fill="#111"/>
<circle cx="378.4" cy="604.0" r="3.6" fill="#111"/>
<circle cx="404.2" cy="629.5" r="3.6" fill="#111"/>
<rect x="323.7" y="476.5" width="82.5" height="38.9" fill="#111"/>
<rect x="321" y="474" width="82" height="38.7" fill="#fff" stroke="#999" stroke-width="1"/>
<path class="ln" stroke-width="1.8" d="M327 481H352.5"/>
<rect x="337.1" y="478.4" width="5.2" height="5.2" fill="#fff" stroke="#111" stroke-width="1.6"/>
<text x="354.3" y="483.9" font-size="8.4" textLength="24.2" lengthAdjust="spacingAndGlyphs">GF-GF</text>
<path class="ln" stroke-width="1.8" d="M327 493.5H352.5"/>
<circle cx="339.7" cy="493.5" r="3.6" fill="#111"/>
<text x="354.3" y="496.4" font-size="8.4" textLength="24" lengthAdjust="spacingAndGlyphs">GF-G4</text>
<path class="ln" stroke-width="1.8" d="M327 507H352.5"/>
<path fill="#111" d="M335.8 510.0h7.8L339.7 503.0Z"/>
<text x="354.3" y="509.9" font-size="8.4" textLength="44.6" lengthAdjust="spacingAndGlyphs">GF-G4-GT4</text>
</svg></body></html>
